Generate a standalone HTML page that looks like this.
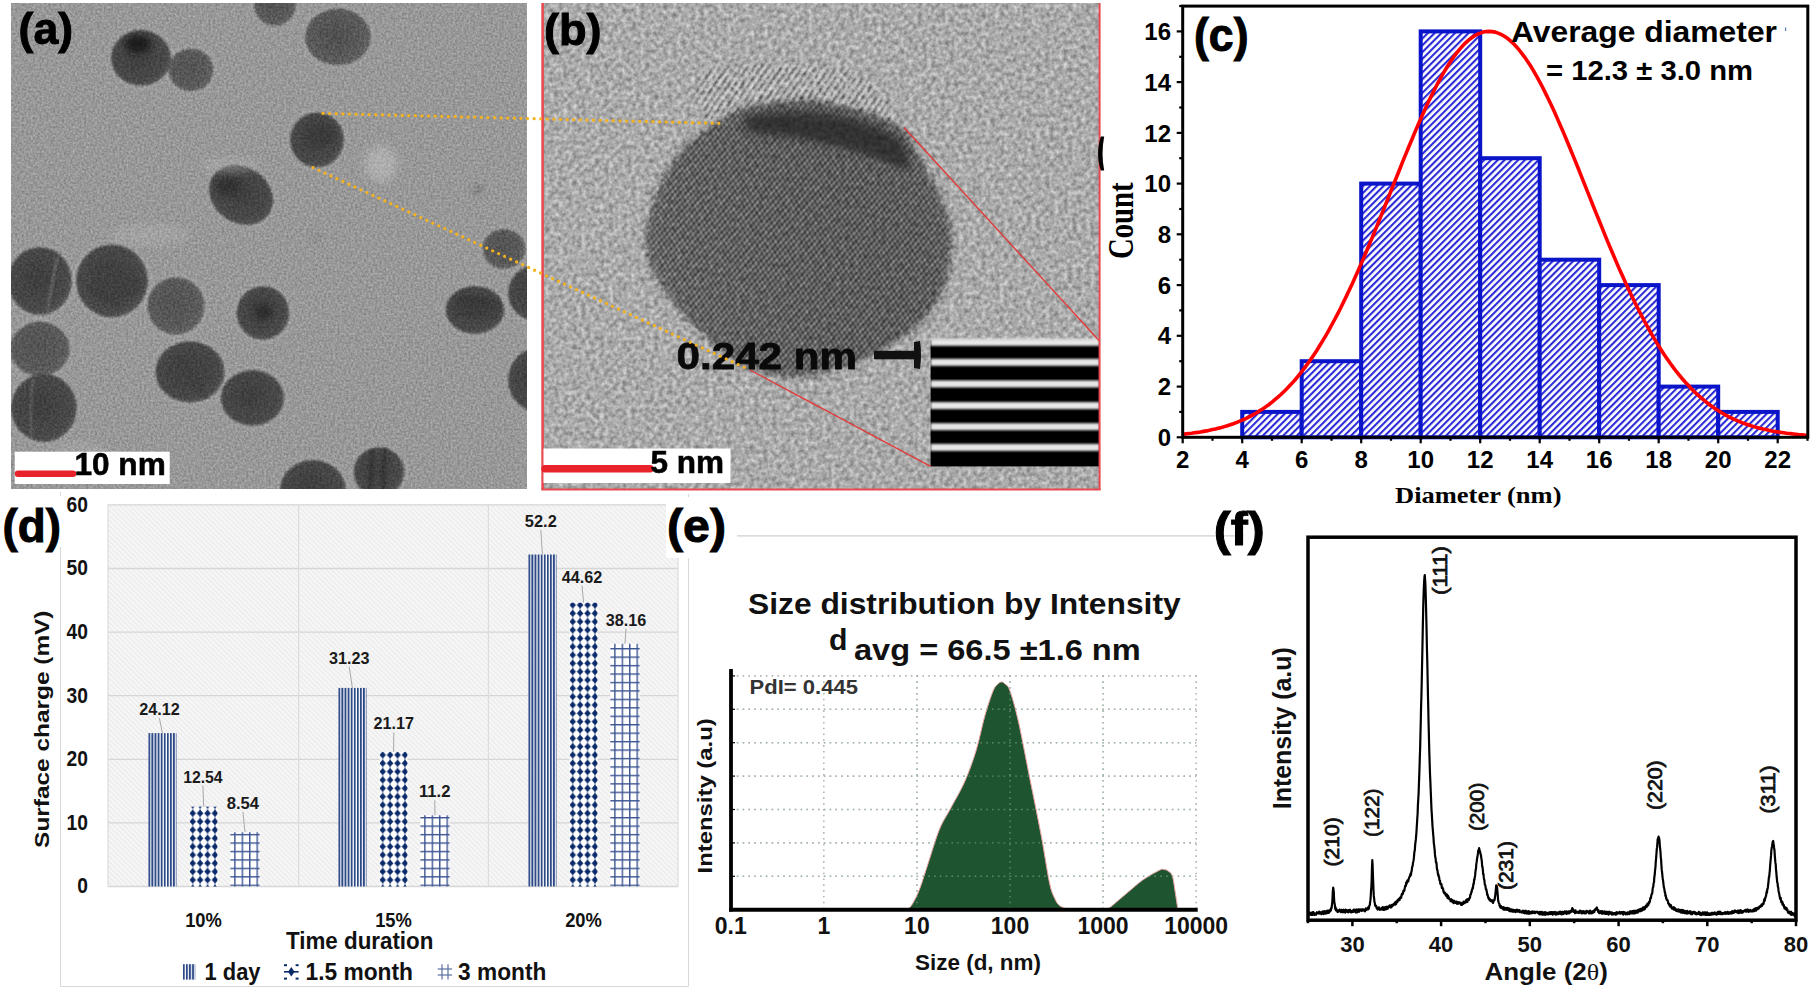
<!DOCTYPE html>
<html><head><meta charset="utf-8"><title>Figure</title>
<style>html,body{margin:0;padding:0;background:#fff;width:1814px;height:992px;overflow:hidden} svg{display:block}</style>
</head><body><svg width="1814" height="992" viewBox="0 0 1814 992"><defs>
<pattern id="hatchC" patternUnits="userSpaceOnUse" width="4.8" height="4.8" patternTransform="rotate(45)">
  <rect width="4.8" height="4.8" fill="#fff"/><rect x="0" y="0" width="2.1" height="4.8" fill="#2a2ad8"/>
</pattern>
<pattern id="hatchD" patternUnits="userSpaceOnUse" width="3.6" height="3.6" patternTransform="rotate(-45)">
  <rect width="3.6" height="3.6" fill="#f7f7f7"/><rect x="0" y="0" width="1.4" height="3.6" fill="#ebebeb"/>
</pattern>
<pattern id="vstripe" patternUnits="userSpaceOnUse" width="3.1" height="10">
  <rect width="3.1" height="10" fill="#fff"/><rect x="0" y="0" width="1.9" height="10" fill="#2e4a86"/>
</pattern>
<pattern id="dots" patternUnits="userSpaceOnUse" width="8" height="8" x="0" y="0">
  <rect width="8" height="8" fill="#fff"/>
  <path d="M4 0.6 L7.4 4 L4 7.4 L0.6 4 Z" fill="#0b2a6a"/>
  <rect x="0" y="3.4" width="8" height="1.2" fill="#0b2a6a"/>
  <rect x="3.4" y="0" width="1.2" height="8" fill="#0b2a6a" opacity="0.5"/>
</pattern>
<pattern id="grid" patternUnits="userSpaceOnUse" width="9" height="9">
  <rect width="9" height="9" fill="#fff"/>
  <rect x="0" y="0" width="9" height="1.6" fill="#2e4a86"/>
  <rect x="0" y="0" width="1.6" height="9" fill="#2e4a86"/>
</pattern>

<filter id="blur2" x="-50%" y="-50%" width="200%" height="200%"><feGaussianBlur stdDeviation="2"/></filter>
<filter id="blur4" x="-50%" y="-50%" width="200%" height="200%"><feGaussianBlur stdDeviation="4"/></filter>
<filter id="blur8"><feGaussianBlur stdDeviation="8"/></filter>
<clipPath id="clipA"><rect x="11" y="3" width="516" height="486"/></clipPath>
<clipPath id="clipB"><rect x="543" y="3" width="557" height="486"/></clipPath>
</defs><g id="panelC"><rect x="1242.2" y="411.9" width="59.5" height="25.4" fill="url(#hatchC)" stroke="#0a14c8" stroke-width="4"/><rect x="1301.7" y="361.2" width="59.5" height="76.1" fill="url(#hatchC)" stroke="#0a14c8" stroke-width="4"/><rect x="1361.2" y="183.6" width="59.5" height="253.7" fill="url(#hatchC)" stroke="#0a14c8" stroke-width="4"/><rect x="1420.7" y="31.4" width="59.5" height="405.9" fill="url(#hatchC)" stroke="#0a14c8" stroke-width="4"/><rect x="1480.2" y="158.2" width="59.5" height="279.1" fill="url(#hatchC)" stroke="#0a14c8" stroke-width="4"/><rect x="1539.7" y="259.7" width="59.5" height="177.6" fill="url(#hatchC)" stroke="#0a14c8" stroke-width="4"/><rect x="1599.2" y="285.1" width="59.5" height="152.2" fill="url(#hatchC)" stroke="#0a14c8" stroke-width="4"/><rect x="1658.7" y="386.6" width="59.5" height="50.7" fill="url(#hatchC)" stroke="#0a14c8" stroke-width="4"/><rect x="1718.2" y="411.9" width="59.5" height="25.4" fill="url(#hatchC)" stroke="#0a14c8" stroke-width="4"/><polyline points="1182.7,434.2 1185.7,433.9 1188.7,433.5 1191.6,433.2 1194.6,432.8 1197.6,432.4 1200.5,431.9 1203.5,431.4 1206.5,430.9 1209.5,430.3 1212.5,429.6 1215.4,429.0 1218.4,428.2 1221.4,427.5 1224.4,426.6 1227.3,425.7 1230.3,424.7 1233.3,423.7 1236.2,422.6 1239.2,421.4 1242.2,420.1 1245.2,418.8 1248.2,417.3 1251.1,415.8 1254.1,414.2 1257.1,412.5 1260.0,410.6 1263.0,408.7 1266.0,406.6 1269.0,404.5 1272.0,402.2 1274.9,399.7 1277.9,397.2 1280.9,394.5 1283.8,391.7 1286.8,388.7 1289.8,385.6 1292.8,382.4 1295.8,379.0 1298.7,375.4 1301.7,371.7 1304.7,367.8 1307.6,363.8 1310.6,359.6 1313.6,355.2 1316.6,350.7 1319.5,346.0 1322.5,341.1 1325.5,336.1 1328.5,330.9 1331.4,325.5 1334.4,320.0 1337.4,314.3 1340.4,308.5 1343.3,302.5 1346.3,296.4 1349.3,290.1 1352.3,283.7 1355.2,277.1 1358.2,270.4 1361.2,263.6 1364.2,256.7 1367.1,249.7 1370.1,242.6 1373.1,235.4 1376.1,228.1 1379.0,220.8 1382.0,213.4 1385.0,206.0 1388.0,198.6 1390.9,191.1 1393.9,183.6 1396.9,176.2 1399.9,168.8 1402.8,161.4 1405.8,154.1 1408.8,146.8 1411.8,139.7 1414.7,132.6 1417.7,125.7 1420.7,118.9 1423.7,112.3 1426.6,105.8 1429.6,99.5 1432.6,93.4 1435.6,87.5 1438.5,81.8 1441.5,76.4 1444.5,71.2 1447.5,66.3 1450.4,61.7 1453.4,57.3 1456.4,53.3 1459.4,49.6 1462.3,46.2 1465.3,43.1 1468.3,40.4 1471.3,38.0 1474.2,36.0 1477.2,34.4 1480.2,33.1 1483.2,32.1 1486.1,31.6 1489.1,31.4 1492.1,31.6 1495.1,32.1 1498.0,33.1 1501.0,34.4 1504.0,36.0 1507.0,38.0 1509.9,40.4 1512.9,43.1 1515.9,46.2 1518.9,49.6 1521.8,53.3 1524.8,57.3 1527.8,61.7 1530.8,66.3 1533.7,71.2 1536.7,76.4 1539.7,81.8 1542.7,87.5 1545.6,93.4 1548.6,99.5 1551.6,105.8 1554.6,112.3 1557.5,118.9 1560.5,125.7 1563.5,132.6 1566.5,139.7 1569.4,146.8 1572.4,154.1 1575.4,161.4 1578.4,168.8 1581.3,176.2 1584.3,183.6 1587.3,191.1 1590.3,198.6 1593.2,206.0 1596.2,213.4 1599.2,220.8 1602.2,228.1 1605.1,235.4 1608.1,242.6 1611.1,249.7 1614.1,256.7 1617.0,263.6 1620.0,270.4 1623.0,277.1 1626.0,283.7 1628.9,290.1 1631.9,296.4 1634.9,302.5 1637.9,308.5 1640.8,314.3 1643.8,320.0 1646.8,325.5 1649.8,330.9 1652.7,336.1 1655.7,341.1 1658.7,346.0 1661.7,350.7 1664.6,355.2 1667.6,359.6 1670.6,363.8 1673.6,367.8 1676.5,371.7 1679.5,375.4 1682.5,379.0 1685.5,382.4 1688.5,385.6 1691.4,388.7 1694.4,391.7 1697.4,394.5 1700.4,397.2 1703.3,399.7 1706.3,402.2 1709.3,404.5 1712.3,406.6 1715.2,408.7 1718.2,410.6 1721.2,412.5 1724.2,414.2 1727.1,415.8 1730.1,417.3 1733.1,418.8 1736.1,420.1 1739.0,421.4 1742.0,422.6 1745.0,423.7 1748.0,424.7 1750.9,425.7 1753.9,426.6 1756.9,427.5 1759.9,428.2 1762.8,429.0 1765.8,429.6 1768.8,430.3 1771.8,430.9 1774.7,431.4 1777.7,431.9 1780.7,432.4 1783.7,432.8 1786.6,433.2 1789.6,433.5 1792.6,433.9 1795.6,434.2 1798.5,434.5 1801.5,434.7 1804.5,435.0 1807.5,435.2" fill="none" stroke="#ff0000" stroke-width="3.6"/><rect x="1182.7" y="6.1" width="625.1" height="431.2" fill="none" stroke="#000" stroke-width="3"/><line x1="1182.7" y1="437.3" x2="1182.7" y2="443.3" stroke="#000" stroke-width="2.2"/><text x="1182.7" y="467.6" font-family="'Liberation Sans', Arial, sans-serif" font-size="24" font-weight="bold" text-anchor="middle" fill="#000" >2</text><line x1="1212.5" y1="437.3" x2="1212.5" y2="440.8" stroke="#000" stroke-width="2.2"/><line x1="1242.2" y1="437.3" x2="1242.2" y2="443.3" stroke="#000" stroke-width="2.2"/><text x="1242.2" y="467.6" font-family="'Liberation Sans', Arial, sans-serif" font-size="24" font-weight="bold" text-anchor="middle" fill="#000" >4</text><line x1="1272.0" y1="437.3" x2="1272.0" y2="440.8" stroke="#000" stroke-width="2.2"/><line x1="1301.7" y1="437.3" x2="1301.7" y2="443.3" stroke="#000" stroke-width="2.2"/><text x="1301.7" y="467.6" font-family="'Liberation Sans', Arial, sans-serif" font-size="24" font-weight="bold" text-anchor="middle" fill="#000" >6</text><line x1="1331.5" y1="437.3" x2="1331.5" y2="440.8" stroke="#000" stroke-width="2.2"/><line x1="1361.2" y1="437.3" x2="1361.2" y2="443.3" stroke="#000" stroke-width="2.2"/><text x="1361.2" y="467.6" font-family="'Liberation Sans', Arial, sans-serif" font-size="24" font-weight="bold" text-anchor="middle" fill="#000" >8</text><line x1="1391.0" y1="437.3" x2="1391.0" y2="440.8" stroke="#000" stroke-width="2.2"/><line x1="1420.7" y1="437.3" x2="1420.7" y2="443.3" stroke="#000" stroke-width="2.2"/><text x="1420.7" y="467.6" font-family="'Liberation Sans', Arial, sans-serif" font-size="24" font-weight="bold" text-anchor="middle" fill="#000" >10</text><line x1="1450.5" y1="437.3" x2="1450.5" y2="440.8" stroke="#000" stroke-width="2.2"/><line x1="1480.2" y1="437.3" x2="1480.2" y2="443.3" stroke="#000" stroke-width="2.2"/><text x="1480.2" y="467.6" font-family="'Liberation Sans', Arial, sans-serif" font-size="24" font-weight="bold" text-anchor="middle" fill="#000" >12</text><line x1="1510.0" y1="437.3" x2="1510.0" y2="440.8" stroke="#000" stroke-width="2.2"/><line x1="1539.7" y1="437.3" x2="1539.7" y2="443.3" stroke="#000" stroke-width="2.2"/><text x="1539.7" y="467.6" font-family="'Liberation Sans', Arial, sans-serif" font-size="24" font-weight="bold" text-anchor="middle" fill="#000" >14</text><line x1="1569.5" y1="437.3" x2="1569.5" y2="440.8" stroke="#000" stroke-width="2.2"/><line x1="1599.2" y1="437.3" x2="1599.2" y2="443.3" stroke="#000" stroke-width="2.2"/><text x="1599.2" y="467.6" font-family="'Liberation Sans', Arial, sans-serif" font-size="24" font-weight="bold" text-anchor="middle" fill="#000" >16</text><line x1="1629.0" y1="437.3" x2="1629.0" y2="440.8" stroke="#000" stroke-width="2.2"/><line x1="1658.7" y1="437.3" x2="1658.7" y2="443.3" stroke="#000" stroke-width="2.2"/><text x="1658.7" y="467.6" font-family="'Liberation Sans', Arial, sans-serif" font-size="24" font-weight="bold" text-anchor="middle" fill="#000" >18</text><line x1="1688.5" y1="437.3" x2="1688.5" y2="440.8" stroke="#000" stroke-width="2.2"/><line x1="1718.2" y1="437.3" x2="1718.2" y2="443.3" stroke="#000" stroke-width="2.2"/><text x="1718.2" y="467.6" font-family="'Liberation Sans', Arial, sans-serif" font-size="24" font-weight="bold" text-anchor="middle" fill="#000" >20</text><line x1="1748.0" y1="437.3" x2="1748.0" y2="440.8" stroke="#000" stroke-width="2.2"/><line x1="1777.7" y1="437.3" x2="1777.7" y2="443.3" stroke="#000" stroke-width="2.2"/><text x="1777.7" y="467.6" font-family="'Liberation Sans', Arial, sans-serif" font-size="24" font-weight="bold" text-anchor="middle" fill="#000" >22</text><line x1="1807.5" y1="437.3" x2="1807.5" y2="440.8" stroke="#000" stroke-width="2.2"/><line x1="1176.7" y1="437.3" x2="1182.7" y2="437.3" stroke="#000" stroke-width="2.2"/><text x="1171" y="445.9" font-family="'Liberation Sans', Arial, sans-serif" font-size="24" font-weight="bold" text-anchor="end" fill="#000" >0</text><line x1="1179.2" y1="411.9" x2="1182.7" y2="411.9" stroke="#000" stroke-width="2.2"/><line x1="1176.7" y1="386.6" x2="1182.7" y2="386.6" stroke="#000" stroke-width="2.2"/><text x="1171" y="395.2" font-family="'Liberation Sans', Arial, sans-serif" font-size="24" font-weight="bold" text-anchor="end" fill="#000" >2</text><line x1="1179.2" y1="361.2" x2="1182.7" y2="361.2" stroke="#000" stroke-width="2.2"/><line x1="1176.7" y1="335.8" x2="1182.7" y2="335.8" stroke="#000" stroke-width="2.2"/><text x="1171" y="344.4" font-family="'Liberation Sans', Arial, sans-serif" font-size="24" font-weight="bold" text-anchor="end" fill="#000" >4</text><line x1="1179.2" y1="310.4" x2="1182.7" y2="310.4" stroke="#000" stroke-width="2.2"/><line x1="1176.7" y1="285.1" x2="1182.7" y2="285.1" stroke="#000" stroke-width="2.2"/><text x="1171" y="293.7" font-family="'Liberation Sans', Arial, sans-serif" font-size="24" font-weight="bold" text-anchor="end" fill="#000" >6</text><line x1="1179.2" y1="259.7" x2="1182.7" y2="259.7" stroke="#000" stroke-width="2.2"/><line x1="1176.7" y1="234.3" x2="1182.7" y2="234.3" stroke="#000" stroke-width="2.2"/><text x="1171" y="242.9" font-family="'Liberation Sans', Arial, sans-serif" font-size="24" font-weight="bold" text-anchor="end" fill="#000" >8</text><line x1="1179.2" y1="209.0" x2="1182.7" y2="209.0" stroke="#000" stroke-width="2.2"/><line x1="1176.7" y1="183.6" x2="1182.7" y2="183.6" stroke="#000" stroke-width="2.2"/><text x="1171" y="192.2" font-family="'Liberation Sans', Arial, sans-serif" font-size="24" font-weight="bold" text-anchor="end" fill="#000" >10</text><line x1="1179.2" y1="158.2" x2="1182.7" y2="158.2" stroke="#000" stroke-width="2.2"/><line x1="1176.7" y1="132.9" x2="1182.7" y2="132.9" stroke="#000" stroke-width="2.2"/><text x="1171" y="141.5" font-family="'Liberation Sans', Arial, sans-serif" font-size="24" font-weight="bold" text-anchor="end" fill="#000" >12</text><line x1="1179.2" y1="107.5" x2="1182.7" y2="107.5" stroke="#000" stroke-width="2.2"/><line x1="1176.7" y1="82.1" x2="1182.7" y2="82.1" stroke="#000" stroke-width="2.2"/><text x="1171" y="90.7" font-family="'Liberation Sans', Arial, sans-serif" font-size="24" font-weight="bold" text-anchor="end" fill="#000" >14</text><line x1="1179.2" y1="56.8" x2="1182.7" y2="56.8" stroke="#000" stroke-width="2.2"/><line x1="1176.7" y1="31.4" x2="1182.7" y2="31.4" stroke="#000" stroke-width="2.2"/><text x="1171" y="40.0" font-family="'Liberation Sans', Arial, sans-serif" font-size="24" font-weight="bold" text-anchor="end" fill="#000" >16</text><line x1="1179.2" y1="6.0" x2="1182.7" y2="6.0" stroke="#000" stroke-width="2.2"/><text x="1194" y="51" font-family="'Liberation Sans', Arial, sans-serif" font-size="46" font-weight="bold" text-anchor="start" fill="#000" textLength="54.5" lengthAdjust="spacingAndGlyphs" stroke="#000" stroke-width="1">(c)</text><text x="1511" y="41.5" font-family="'Liberation Sans', Arial, sans-serif" font-size="30" font-weight="bold" text-anchor="start" fill="#000" textLength="266" lengthAdjust="spacingAndGlyphs" >Average diameter</text><text x="1546" y="79.6" font-family="'Liberation Sans', Arial, sans-serif" font-size="28" font-weight="bold" text-anchor="start" fill="#000" textLength="207" lengthAdjust="spacingAndGlyphs" >= 12.3 ± 3.0 nm</text><rect x="1785" y="27.5" width="1.2" height="3.5" fill="#5a7fc0"/><text x="1395" y="502.8" font-family="'Liberation Serif', 'Times New Roman', serif" font-size="24" font-weight="bold" text-anchor="start" fill="#000" textLength="166.5" lengthAdjust="spacingAndGlyphs" >Diameter (nm)</text><text transform="translate(1132.5,259) rotate(-90)" font-family="'Liberation Serif', 'Times New Roman', serif" font-size="36.5" font-weight="bold" textLength="76.5" lengthAdjust="spacingAndGlyphs">Count</text></g><g id="panelD"><path d="M60.5,492 V986.5 H688.5 V494" fill="none" stroke="#d9d9d9" stroke-width="1"/><rect x="108" y="504.4" width="570" height="382.1" fill="url(#hatchD)"/><line x1="108" y1="886.5" x2="678" y2="886.5" stroke="#d6d6d6" stroke-width="1.3"/><text x="88" y="893.3" font-family="'Liberation Sans', Arial, sans-serif" font-size="21.5" font-weight="bold" text-anchor="end" fill="#111" textLength="10.7" lengthAdjust="spacingAndGlyphs" >0</text><line x1="108" y1="822.9" x2="678" y2="822.9" stroke="#d6d6d6" stroke-width="1.3"/><text x="88" y="829.7" font-family="'Liberation Sans', Arial, sans-serif" font-size="21.5" font-weight="bold" text-anchor="end" fill="#111" textLength="21.4" lengthAdjust="spacingAndGlyphs" >10</text><line x1="108" y1="759.3" x2="678" y2="759.3" stroke="#d6d6d6" stroke-width="1.3"/><text x="88" y="766.1" font-family="'Liberation Sans', Arial, sans-serif" font-size="21.5" font-weight="bold" text-anchor="end" fill="#111" textLength="21.4" lengthAdjust="spacingAndGlyphs" >20</text><line x1="108" y1="695.7" x2="678" y2="695.7" stroke="#d6d6d6" stroke-width="1.3"/><text x="88" y="702.5" font-family="'Liberation Sans', Arial, sans-serif" font-size="21.5" font-weight="bold" text-anchor="end" fill="#111" textLength="21.4" lengthAdjust="spacingAndGlyphs" >30</text><line x1="108" y1="632.1" x2="678" y2="632.1" stroke="#d6d6d6" stroke-width="1.3"/><text x="88" y="638.9" font-family="'Liberation Sans', Arial, sans-serif" font-size="21.5" font-weight="bold" text-anchor="end" fill="#111" textLength="21.4" lengthAdjust="spacingAndGlyphs" >40</text><line x1="108" y1="568.5" x2="678" y2="568.5" stroke="#d6d6d6" stroke-width="1.3"/><text x="88" y="575.3" font-family="'Liberation Sans', Arial, sans-serif" font-size="21.5" font-weight="bold" text-anchor="end" fill="#111" textLength="21.4" lengthAdjust="spacingAndGlyphs" >50</text><line x1="108" y1="504.9" x2="678" y2="504.9" stroke="#d6d6d6" stroke-width="1.3"/><text x="88" y="511.7" font-family="'Liberation Sans', Arial, sans-serif" font-size="21.5" font-weight="bold" text-anchor="end" fill="#111" textLength="21.4" lengthAdjust="spacingAndGlyphs" >60</text><line x1="108" y1="504.4" x2="108" y2="886.5" stroke="#dcdcdc" stroke-width="1.2"/><line x1="298.6" y1="504.4" x2="298.6" y2="886.5" stroke="#dcdcdc" stroke-width="1.2"/><line x1="488.4" y1="504.4" x2="488.4" y2="886.5" stroke="#dcdcdc" stroke-width="1.2"/><line x1="678" y1="504.4" x2="678" y2="886.5" stroke="#dcdcdc" stroke-width="1.2"/><defs><pattern id="pb00" patternUnits="userSpaceOnUse" x="148.30" y="0" width="3.1" height="10"><rect width="3.1" height="10" fill="#fff"/><rect x="0" y="0" width="1.9" height="10" fill="#2e4a86"/></pattern></defs><rect x="148.3" y="733.1" width="28.2" height="153.4" fill="url(#pb00)"/><text x="159.4" y="715.2" font-family="'Liberation Sans', Arial, sans-serif" font-size="16" font-weight="bold" text-anchor="middle" fill="#1a1a1a" textLength="40.5" lengthAdjust="spacingAndGlyphs" >24.12</text><line x1="159.4" y1="718.2" x2="162.4" y2="733.1" stroke="#a8a8a8" stroke-width="1"/><defs><pattern id="pb01" patternUnits="userSpaceOnUse" x="189.00" y="875.8" width="7.43" height="8.33"><rect width="7.43" height="8.33" fill="#fff"/><rect x="3.2" y="0" width="1" height="8.33" fill="#0b2a6a" opacity="0.6"/><path d="M3.7 0.5 L7.0 4.1 L3.7 7.7 L0.4 4.1 Z" fill="#0b2a6a"/></pattern></defs><rect x="189.8" y="806.7" width="27.7" height="79.8" fill="url(#pb01)"/><text x="202.9" y="782.5" font-family="'Liberation Sans', Arial, sans-serif" font-size="16" font-weight="bold" text-anchor="middle" fill="#1a1a1a" textLength="39.5" lengthAdjust="spacingAndGlyphs" >12.54</text><line x1="202.9" y1="785.5" x2="203.7" y2="806.7" stroke="#a8a8a8" stroke-width="1"/><defs><pattern id="pb02" patternUnits="userSpaceOnUse" x="234.20" y="884.6" width="7.43" height="8.45"><rect width="7.43" height="8.45" fill="#fff"/><rect x="0" y="0" width="7.43" height="1.4" fill="#3d5592"/><rect x="0" y="0" width="1.4" height="8.45" fill="#3d5592"/></pattern></defs><rect x="230.4" y="832.2" width="29.2" height="54.3" fill="url(#pb02)"/><text x="242.9" y="808.8" font-family="'Liberation Sans', Arial, sans-serif" font-size="16" font-weight="bold" text-anchor="middle" fill="#1a1a1a" textLength="32.4" lengthAdjust="spacingAndGlyphs" >8.54</text><line x1="242.9" y1="811.8" x2="245.0" y2="832.2" stroke="#a8a8a8" stroke-width="1"/><defs><pattern id="pb10" patternUnits="userSpaceOnUse" x="338.30" y="0" width="3.1" height="10"><rect width="3.1" height="10" fill="#fff"/><rect x="0" y="0" width="1.9" height="10" fill="#2e4a86"/></pattern></defs><rect x="338.3" y="687.9" width="28.2" height="198.6" fill="url(#pb10)"/><text x="349.2" y="663.6" font-family="'Liberation Sans', Arial, sans-serif" font-size="16" font-weight="bold" text-anchor="middle" fill="#1a1a1a" textLength="40.4" lengthAdjust="spacingAndGlyphs" >31.23</text><line x1="349.2" y1="666.6" x2="352.4" y2="687.9" stroke="#a8a8a8" stroke-width="1"/><defs><pattern id="pb11" patternUnits="userSpaceOnUse" x="379.00" y="875.8" width="7.43" height="8.33"><rect width="7.43" height="8.33" fill="#fff"/><rect x="3.2" y="0" width="1" height="8.33" fill="#0b2a6a" opacity="0.6"/><path d="M3.7 0.5 L7.0 4.1 L3.7 7.7 L0.4 4.1 Z" fill="#0b2a6a"/></pattern></defs><rect x="379.8" y="751.9" width="27.7" height="134.6" fill="url(#pb11)"/><text x="393.8" y="729.4" font-family="'Liberation Sans', Arial, sans-serif" font-size="16" font-weight="bold" text-anchor="middle" fill="#1a1a1a" textLength="40.5" lengthAdjust="spacingAndGlyphs" >21.17</text><line x1="393.8" y1="732.4" x2="393.6" y2="751.9" stroke="#a8a8a8" stroke-width="1"/><defs><pattern id="pb12" patternUnits="userSpaceOnUse" x="424.20" y="884.6" width="7.43" height="8.45"><rect width="7.43" height="8.45" fill="#fff"/><rect x="0" y="0" width="7.43" height="1.4" fill="#3d5592"/><rect x="0" y="0" width="1.4" height="8.45" fill="#3d5592"/></pattern></defs><rect x="420.4" y="815.3" width="29.2" height="71.2" fill="url(#pb12)"/><text x="434.7" y="797.2" font-family="'Liberation Sans', Arial, sans-serif" font-size="16" font-weight="bold" text-anchor="middle" fill="#1a1a1a" textLength="31.4" lengthAdjust="spacingAndGlyphs" >11.2</text><line x1="434.7" y1="800.2" x2="435.0" y2="815.3" stroke="#a8a8a8" stroke-width="1"/><defs><pattern id="pb20" patternUnits="userSpaceOnUse" x="528.30" y="0" width="3.1" height="10"><rect width="3.1" height="10" fill="#fff"/><rect x="0" y="0" width="1.9" height="10" fill="#2e4a86"/></pattern></defs><rect x="528.3" y="554.5" width="28.2" height="332.0" fill="url(#pb20)"/><text x="540.8" y="527" font-family="'Liberation Sans', Arial, sans-serif" font-size="16" font-weight="bold" text-anchor="middle" fill="#1a1a1a" textLength="31.9" lengthAdjust="spacingAndGlyphs" >52.2</text><line x1="540.8" y1="530.0" x2="542.4" y2="554.5" stroke="#a8a8a8" stroke-width="1"/><defs><pattern id="pb21" patternUnits="userSpaceOnUse" x="569.00" y="875.8" width="7.43" height="8.33"><rect width="7.43" height="8.33" fill="#fff"/><rect x="3.2" y="0" width="1" height="8.33" fill="#0b2a6a" opacity="0.6"/><path d="M3.7 0.5 L7.0 4.1 L3.7 7.7 L0.4 4.1 Z" fill="#0b2a6a"/></pattern></defs><rect x="569.8" y="602.7" width="27.7" height="283.8" fill="url(#pb21)"/><text x="582.0" y="582.6" font-family="'Liberation Sans', Arial, sans-serif" font-size="16" font-weight="bold" text-anchor="middle" fill="#1a1a1a" textLength="40.5" lengthAdjust="spacingAndGlyphs" >44.62</text><line x1="582.0" y1="585.6" x2="583.6" y2="602.7" stroke="#a8a8a8" stroke-width="1"/><defs><pattern id="pb22" patternUnits="userSpaceOnUse" x="614.20" y="884.6" width="7.43" height="8.45"><rect width="7.43" height="8.45" fill="#fff"/><rect x="0" y="0" width="7.43" height="1.4" fill="#3d5592"/><rect x="0" y="0" width="1.4" height="8.45" fill="#3d5592"/></pattern></defs><rect x="610.4" y="643.8" width="29.2" height="242.7" fill="url(#pb22)"/><text x="626.0" y="625.6" font-family="'Liberation Sans', Arial, sans-serif" font-size="16" font-weight="bold" text-anchor="middle" fill="#1a1a1a" textLength="40.5" lengthAdjust="spacingAndGlyphs" >38.16</text><line x1="626.0" y1="628.6" x2="625.0" y2="643.8" stroke="#a8a8a8" stroke-width="1"/><text x="203.5" y="926.6" font-family="'Liberation Sans', Arial, sans-serif" font-size="21" font-weight="bold" text-anchor="middle" fill="#111" textLength="36.7" lengthAdjust="spacingAndGlyphs" >10%</text><text x="393.5" y="926.6" font-family="'Liberation Sans', Arial, sans-serif" font-size="21" font-weight="bold" text-anchor="middle" fill="#111" textLength="36.7" lengthAdjust="spacingAndGlyphs" >15%</text><text x="583.5" y="926.6" font-family="'Liberation Sans', Arial, sans-serif" font-size="21" font-weight="bold" text-anchor="middle" fill="#111" textLength="36.7" lengthAdjust="spacingAndGlyphs" >20%</text><text x="286" y="949" font-family="'Liberation Sans', Arial, sans-serif" font-size="23.3" font-weight="bold" text-anchor="start" fill="#111" textLength="147.4" lengthAdjust="spacingAndGlyphs" >Time duration</text><rect x="182.3" y="964.2" width="13" height="15.4" fill="url(#vstripe)"/><text x="204.5" y="980" font-family="'Liberation Sans', Arial, sans-serif" font-size="23.5" font-weight="bold" text-anchor="start" fill="#111" textLength="56" lengthAdjust="spacingAndGlyphs" >1 day</text><g><rect x="284" y="964.2" width="14.6" height="15.4" fill="#fff"/><path d="M291.3 967 L294.5 971.8 L291.3 976.6 L288.1 971.8 Z" fill="#0b2a6a"/><rect x="284" y="971" width="14.6" height="1.6" fill="#0b2a6a"/><rect x="284" y="964.2" width="3" height="2" fill="#0b2a6a"/><rect x="295.6" y="964.2" width="3" height="2" fill="#0b2a6a"/><rect x="284" y="977.6" width="3" height="2" fill="#0b2a6a"/><rect x="295.6" y="977.6" width="3" height="2" fill="#0b2a6a"/></g><text x="305.5" y="980" font-family="'Liberation Sans', Arial, sans-serif" font-size="23.5" font-weight="bold" text-anchor="start" fill="#111" textLength="107.5" lengthAdjust="spacingAndGlyphs" >1.5 month</text><g stroke="#5a6ea0" stroke-width="1.2" fill="none"><line x1="437.7" y1="969" x2="452.1" y2="969"/><line x1="437.7" y1="975" x2="452.1" y2="975"/><line x1="442" y1="964.2" x2="442" y2="979.6"/><line x1="448" y1="964.2" x2="448" y2="979.6"/></g><text x="458.1" y="980" font-family="'Liberation Sans', Arial, sans-serif" font-size="23.5" font-weight="bold" text-anchor="start" fill="#111" textLength="88.2" lengthAdjust="spacingAndGlyphs" >3 month</text><text transform="translate(49,847.9) rotate(-90)" font-family="'Liberation Sans', Arial, sans-serif" font-size="20.3" font-weight="bold" fill="#111" textLength="237.4" lengthAdjust="spacingAndGlyphs">Surface charge (mV)</text><rect x="0" y="496" width="62" height="51" fill="#fff"/><text x="2.5" y="542" font-family="'Liberation Sans', Arial, sans-serif" font-size="47" font-weight="bold" text-anchor="start" fill="#000" textLength="58.5" lengthAdjust="spacingAndGlyphs" stroke="#000" stroke-width="1">(d)</text></g><g id="panelE"><rect x="666" y="497" width="64" height="61" fill="#fff"/><text x="667" y="542.3" font-family="'Liberation Sans', Arial, sans-serif" font-size="46.5" font-weight="bold" text-anchor="start" fill="#000" textLength="59" lengthAdjust="spacingAndGlyphs" stroke="#000" stroke-width="1">(e)</text><line x1="737" y1="535.8" x2="1243.7" y2="535.8" stroke="#cfcfcf" stroke-width="1.3"/><text x="748" y="614.4" font-family="'Liberation Sans', Arial, sans-serif" font-size="29" font-weight="bold" text-anchor="start" fill="#111" textLength="432.7" lengthAdjust="spacingAndGlyphs" >Size distribution by Intensity</text><text x="829" y="649.5" font-family="'Liberation Sans', Arial, sans-serif" font-size="29" font-weight="bold" text-anchor="start" fill="#111" textLength="18.5" lengthAdjust="spacingAndGlyphs" >d</text><text x="854" y="659.9" font-family="'Liberation Sans', Arial, sans-serif" font-size="29" font-weight="bold" text-anchor="start" fill="#111" textLength="286.7" lengthAdjust="spacingAndGlyphs" >avg = 66.5 ±1.6 nm</text><line x1="731" y1="876.3" x2="1196.3" y2="876.3" stroke="#b5b5b5" stroke-width="1.6" stroke-dasharray="1.6 4.2"/><line x1="731" y1="842.9" x2="1196.3" y2="842.9" stroke="#b5b5b5" stroke-width="1.6" stroke-dasharray="1.6 4.2"/><line x1="731" y1="809.5" x2="1196.3" y2="809.5" stroke="#b5b5b5" stroke-width="1.6" stroke-dasharray="1.6 4.2"/><line x1="731" y1="776.1" x2="1196.3" y2="776.1" stroke="#b5b5b5" stroke-width="1.6" stroke-dasharray="1.6 4.2"/><line x1="731" y1="742.7" x2="1196.3" y2="742.7" stroke="#b5b5b5" stroke-width="1.6" stroke-dasharray="1.6 4.2"/><line x1="731" y1="709.3" x2="1196.3" y2="709.3" stroke="#b5b5b5" stroke-width="1.6" stroke-dasharray="1.6 4.2"/><line x1="731" y1="675.9" x2="1196.3" y2="675.9" stroke="#b5b5b5" stroke-width="1.6" stroke-dasharray="1.6 4.2"/><line x1="823.8" y1="675.5" x2="823.8" y2="909.7" stroke="#b5b5b5" stroke-width="1.6" stroke-dasharray="1.6 4.2"/><line x1="916.9" y1="675.5" x2="916.9" y2="909.7" stroke="#b5b5b5" stroke-width="1.6" stroke-dasharray="1.6 4.2"/><line x1="1010.0" y1="675.5" x2="1010.0" y2="909.7" stroke="#b5b5b5" stroke-width="1.6" stroke-dasharray="1.6 4.2"/><line x1="1103.1" y1="675.5" x2="1103.1" y2="909.7" stroke="#b5b5b5" stroke-width="1.6" stroke-dasharray="1.6 4.2"/><line x1="1196.2" y1="675.5" x2="1196.2" y2="909.7" stroke="#b5b5b5" stroke-width="1.6" stroke-dasharray="1.6 4.2"/><path d="M908.5,909 C909.2,908.0 911.1,906.4 913,903 C914.9,899.6 917.3,895.2 919.8,888.6 C922.3,882.0 924.9,873.1 928.2,863.2 C931.5,853.3 935.7,838.5 939.5,829.3 C943.3,820.1 946.6,816.1 950.8,808.1 C955.0,800.1 960.7,790.9 964.9,781.3 C969.1,771.7 972.9,761.1 976.2,750.3 C979.5,739.5 981.9,726.3 984.7,716.4 C987.5,706.5 990.9,696.4 993.1,691 C995.3,685.6 996.6,685.5 998,684 C999.4,682.5 1000.4,682.0 1001.6,682 C1002.8,682.0 1003.6,682.5 1005,684 C1006.4,685.5 1007.8,684.7 1010,691 C1012.2,697.3 1015.2,707.4 1018.5,722 C1021.8,736.6 1026.0,759.7 1029.8,778.5 C1033.6,797.3 1037.8,817.6 1041.1,835 C1044.4,852.4 1047.2,872.2 1049.5,882.9 C1051.8,893.6 1053.3,895.2 1055,899 C1056.7,902.8 1057.5,903.8 1059.4,905.5 C1061.3,907.2 1065.3,908.4 1066.5,909 Z" fill="#1f5430" stroke="#e8a0a0" stroke-width="1"/><path d="M1104,909.5 C1104.8,909.3 1105.2,910.8 1108.8,908.3 C1112.4,905.8 1120.0,898.9 1125.7,894.2 C1131.4,889.5 1137.1,884.1 1142.7,880.1 C1148.3,876.1 1156.0,872.0 1159.6,870.2 C1163.1,868.4 1162.6,869.4 1164,869.5 C1165.4,869.6 1166.6,869.9 1168,871 C1169.4,872.1 1171.1,872.5 1172.3,875.9 C1173.5,879.3 1174.2,885.8 1175.1,891.4 C1176.0,897.0 1177.4,906.5 1177.9,909.5 Z" fill="#1f5430" stroke="#e8a0a0" stroke-width="1"/><line x1="731" y1="876.3" x2="1196.3" y2="876.3" stroke="#8fb89a" stroke-width="1.4" stroke-dasharray="1.6 4.2" opacity="0.55"/><line x1="731" y1="842.9" x2="1196.3" y2="842.9" stroke="#8fb89a" stroke-width="1.4" stroke-dasharray="1.6 4.2" opacity="0.55"/><line x1="731" y1="809.5" x2="1196.3" y2="809.5" stroke="#8fb89a" stroke-width="1.4" stroke-dasharray="1.6 4.2" opacity="0.55"/><line x1="731" y1="776.1" x2="1196.3" y2="776.1" stroke="#8fb89a" stroke-width="1.4" stroke-dasharray="1.6 4.2" opacity="0.55"/><line x1="731" y1="742.7" x2="1196.3" y2="742.7" stroke="#8fb89a" stroke-width="1.4" stroke-dasharray="1.6 4.2" opacity="0.55"/><line x1="731" y1="709.3" x2="1196.3" y2="709.3" stroke="#8fb89a" stroke-width="1.4" stroke-dasharray="1.6 4.2" opacity="0.55"/><line x1="916.9" y1="675.5" x2="916.9" y2="909.7" stroke="#8fb89a" stroke-width="1.4" stroke-dasharray="1.6 4.2" opacity="0.55"/><line x1="1010.0" y1="675.5" x2="1010.0" y2="909.7" stroke="#8fb89a" stroke-width="1.4" stroke-dasharray="1.6 4.2" opacity="0.55"/><line x1="1103.1" y1="675.5" x2="1103.1" y2="909.7" stroke="#8fb89a" stroke-width="1.4" stroke-dasharray="1.6 4.2" opacity="0.55"/><line x1="731" y1="669" x2="731" y2="911.5" stroke="#000" stroke-width="3.8"/><line x1="729" y1="909.7" x2="1197.7" y2="909.7" stroke="#000" stroke-width="4"/><line x1="731" y1="876.3" x2="735" y2="876.3" stroke="#000" stroke-width="1.2"/><line x1="731" y1="842.9" x2="735" y2="842.9" stroke="#000" stroke-width="1.2"/><line x1="731" y1="809.5" x2="735" y2="809.5" stroke="#000" stroke-width="1.2"/><line x1="731" y1="776.1" x2="735" y2="776.1" stroke="#000" stroke-width="1.2"/><line x1="731" y1="742.7" x2="735" y2="742.7" stroke="#000" stroke-width="1.2"/><line x1="731" y1="709.3" x2="735" y2="709.3" stroke="#000" stroke-width="1.2"/><line x1="731" y1="675.9" x2="735" y2="675.9" stroke="#000" stroke-width="1.2"/><text x="730.7" y="934.4" font-family="'Liberation Sans', Arial, sans-serif" font-size="23" font-weight="bold" text-anchor="middle" fill="#111" >0.1</text><text x="823.8" y="934.4" font-family="'Liberation Sans', Arial, sans-serif" font-size="23" font-weight="bold" text-anchor="middle" fill="#111" >1</text><text x="916.9" y="934.4" font-family="'Liberation Sans', Arial, sans-serif" font-size="23" font-weight="bold" text-anchor="middle" fill="#111" >10</text><text x="1010.0" y="934.4" font-family="'Liberation Sans', Arial, sans-serif" font-size="23" font-weight="bold" text-anchor="middle" fill="#111" >100</text><text x="1103.1" y="934.4" font-family="'Liberation Sans', Arial, sans-serif" font-size="23" font-weight="bold" text-anchor="middle" fill="#111" >1000</text><text x="1196.2" y="934.4" font-family="'Liberation Sans', Arial, sans-serif" font-size="23" font-weight="bold" text-anchor="middle" fill="#111" >10000</text><text x="915" y="969.5" font-family="'Liberation Sans', Arial, sans-serif" font-size="22.5" font-weight="bold" text-anchor="start" fill="#111" textLength="126" lengthAdjust="spacingAndGlyphs" >Size (d, nm)</text><text x="749.6" y="693.8" font-family="'Liberation Sans', Arial, sans-serif" font-size="21" font-weight="bold" text-anchor="start" fill="#333" textLength="108.3" lengthAdjust="spacingAndGlyphs" >PdI= 0.445</text><text transform="translate(711.5,873.5) rotate(-90)" font-family="'Liberation Sans', Arial, sans-serif" font-size="20" font-weight="bold" fill="#111" textLength="155.3" lengthAdjust="spacingAndGlyphs">Intensity (a.u)</text></g><g id="panelF"><polyline points="1308.0,913.8 1308.3,913.5 1308.6,912.4 1308.9,913.8 1309.2,913.6 1309.6,913.4 1309.9,914.6 1310.2,913.6 1310.5,913.2 1310.8,912.7 1311.1,914.8 1311.4,914.1 1311.7,914.8 1312.0,912.6 1312.3,912.9 1312.7,914.9 1313.0,912.0 1313.3,912.1 1313.6,913.0 1313.9,913.1 1314.2,914.4 1314.5,914.8 1314.8,913.3 1315.1,914.7 1315.5,914.2 1315.8,914.1 1316.1,914.7 1316.4,913.4 1316.7,913.4 1317.0,912.2 1317.3,913.1 1317.6,912.7 1317.9,913.1 1318.2,912.6 1318.6,913.2 1318.9,913.7 1319.2,911.5 1319.5,911.5 1319.8,912.0 1320.1,912.3 1320.4,913.5 1320.7,913.7 1321.0,913.5 1321.4,914.1 1321.7,912.0 1322.0,913.1 1322.3,911.7 1322.6,913.0 1322.9,911.3 1323.2,911.6 1323.5,914.1 1323.8,913.4 1324.1,911.3 1324.5,912.6 1324.8,911.0 1325.1,912.7 1325.4,913.6 1325.7,911.9 1326.0,911.4 1326.3,912.9 1326.6,913.3 1326.9,912.5 1327.3,910.6 1327.6,911.1 1327.9,912.9 1328.2,912.4 1328.5,912.8 1328.8,912.8 1329.1,910.4 1329.4,912.0 1329.7,910.7 1330.0,910.7 1330.4,911.1 1330.7,909.0 1331.0,910.2 1331.3,907.7 1331.6,908.1 1331.9,905.3 1332.2,903.1 1332.5,898.8 1332.8,891.4 1333.2,887.6 1333.5,889.5 1333.8,892.4 1334.1,899.5 1334.4,902.8 1334.7,904.1 1335.0,906.4 1335.3,909.2 1335.6,907.3 1335.9,910.2 1336.3,910.5 1336.6,909.3 1336.9,910.8 1337.2,911.1 1337.5,911.9 1337.8,912.0 1338.1,910.6 1338.4,911.7 1338.7,910.7 1339.1,911.4 1339.4,911.2 1339.7,909.7 1340.0,911.1 1340.3,910.9 1340.6,910.0 1340.9,912.1 1341.2,912.2 1341.5,909.9 1341.9,910.2 1342.2,911.9 1342.5,912.1 1342.8,910.4 1343.1,909.8 1343.4,912.1 1343.7,909.8 1344.0,910.0 1344.3,910.8 1344.6,911.4 1345.0,912.3 1345.3,912.5 1345.6,909.7 1345.9,911.9 1346.2,910.5 1346.5,911.8 1346.8,910.1 1347.1,910.8 1347.4,911.7 1347.8,912.0 1348.1,910.4 1348.4,912.3 1348.7,911.9 1349.0,910.9 1349.3,910.0 1349.6,910.7 1349.9,911.7 1350.2,909.8 1350.5,911.9 1350.9,912.4 1351.2,911.7 1351.5,911.1 1351.8,912.3 1352.1,911.9 1352.4,911.4 1352.7,910.7 1353.0,912.0 1353.3,911.3 1353.7,909.8 1354.0,909.5 1354.3,910.4 1354.6,910.3 1354.9,910.6 1355.2,912.0 1355.5,912.3 1355.8,912.3 1356.1,909.6 1356.4,910.3 1356.8,909.5 1357.1,912.3 1357.4,910.4 1357.7,910.9 1358.0,910.1 1358.3,911.3 1358.6,909.3 1358.9,912.0 1359.2,910.6 1359.6,910.0 1359.9,909.5 1360.2,910.0 1360.5,910.1 1360.8,909.8 1361.1,909.4 1361.4,911.0 1361.7,910.0 1362.0,909.3 1362.3,909.4 1362.7,910.7 1363.0,909.6 1363.3,909.3 1363.6,910.1 1363.9,909.9 1364.2,910.6 1364.5,909.9 1364.8,909.8 1365.1,911.3 1365.5,909.5 1365.8,908.4 1366.1,908.6 1366.4,908.9 1366.7,909.8 1367.0,908.5 1367.3,908.8 1367.6,909.0 1367.9,907.5 1368.2,909.4 1368.6,906.9 1368.9,908.5 1369.2,906.1 1369.5,905.5 1369.8,905.1 1370.1,902.0 1370.4,900.4 1370.7,896.8 1371.0,891.2 1371.4,886.4 1371.7,878.0 1372.0,867.1 1372.3,860.2 1372.6,864.9 1372.9,874.5 1373.2,881.9 1373.5,890.1 1373.8,895.9 1374.1,898.1 1374.5,902.2 1374.8,903.0 1375.1,905.7 1375.4,905.9 1375.7,905.5 1376.0,905.7 1376.3,906.2 1376.6,908.1 1376.9,907.7 1377.3,908.7 1377.6,909.5 1377.9,908.5 1378.2,907.6 1378.5,907.6 1378.8,908.1 1379.1,907.4 1379.4,909.5 1379.7,909.8 1380.0,909.0 1380.4,909.5 1380.7,909.7 1381.0,909.1 1381.3,908.4 1381.6,908.8 1381.9,909.3 1382.2,907.7 1382.5,907.2 1382.8,908.8 1383.2,909.9 1383.5,909.9 1383.8,907.3 1384.1,909.8 1384.4,907.7 1384.7,908.1 1385.0,908.8 1385.3,907.2 1385.6,909.5 1385.9,909.0 1386.3,908.0 1386.6,909.2 1386.9,906.7 1387.2,908.4 1387.5,908.6 1387.8,908.7 1388.1,906.9 1388.4,907.3 1388.7,906.6 1389.1,906.4 1389.4,905.9 1389.7,905.3 1390.0,906.0 1390.3,907.3 1390.6,906.3 1390.9,907.1 1391.2,907.4 1391.5,905.9 1391.8,905.0 1392.2,906.4 1392.5,906.0 1392.8,905.6 1393.1,904.3 1393.4,904.7 1393.7,904.2 1394.0,903.6 1394.3,904.5 1394.6,903.1 1395.0,902.5 1395.3,904.7 1395.6,901.9 1395.9,902.3 1396.2,903.9 1396.5,902.6 1396.8,901.8 1397.1,900.7 1397.4,902.0 1397.8,901.1 1398.1,899.9 1398.4,899.8 1398.7,899.0 1399.0,900.1 1399.3,899.1 1399.6,900.1 1399.9,898.1 1400.2,897.4 1400.5,897.5 1400.9,896.8 1401.2,897.8 1401.5,895.2 1401.8,894.3 1402.1,893.7 1402.4,894.4 1402.7,893.0 1403.0,893.6 1403.3,891.1 1403.7,890.4 1404.0,891.0 1404.3,890.9 1404.6,888.8 1404.9,887.5 1405.2,885.8 1405.5,885.6 1405.8,886.1 1406.1,882.8 1406.4,884.3 1406.8,881.4 1407.1,882.8 1407.4,881.8 1407.7,880.0 1408.0,881.5 1408.3,881.1 1408.6,879.5 1408.9,878.3 1409.2,877.4 1409.6,877.1 1409.9,875.6 1410.2,876.1 1410.5,873.7 1410.8,875.3 1411.1,873.7 1411.4,871.5 1411.7,870.9 1412.0,868.1 1412.3,866.8 1412.7,865.4 1413.0,862.6 1413.3,861.5 1413.6,860.2 1413.9,857.7 1414.2,853.9 1414.5,851.2 1414.8,850.5 1415.1,845.6 1415.5,842.0 1415.8,839.9 1416.1,836.0 1416.4,833.2 1416.7,827.8 1417.0,823.2 1417.3,817.9 1417.6,814.1 1417.9,805.3 1418.2,800.2 1418.6,793.5 1418.9,784.7 1419.2,777.1 1419.5,768.3 1419.8,758.0 1420.1,749.3 1420.4,736.5 1420.7,724.7 1421.0,710.0 1421.4,696.3 1421.7,683.9 1422.0,668.3 1422.3,654.2 1422.6,638.2 1422.9,622.5 1423.2,608.7 1423.5,598.1 1423.8,588.7 1424.1,582.0 1424.5,576.7 1424.8,575.0 1425.1,580.1 1425.4,584.0 1425.7,594.9 1426.0,605.5 1426.3,618.3 1426.6,631.1 1426.9,647.1 1427.3,662.2 1427.6,676.5 1427.9,692.7 1428.2,704.9 1428.5,720.1 1428.8,731.5 1429.1,744.0 1429.4,755.1 1429.7,764.2 1430.0,773.8 1430.4,782.6 1430.7,790.4 1431.0,797.3 1431.3,805.2 1431.6,811.2 1431.9,815.6 1432.2,820.9 1432.5,826.1 1432.8,829.6 1433.2,834.5 1433.5,837.6 1433.8,843.1 1434.1,844.9 1434.4,847.8 1434.7,850.4 1435.0,854.9 1435.3,857.4 1435.6,858.0 1435.9,862.3 1436.3,862.1 1436.6,864.4 1436.9,868.5 1437.2,869.9 1437.5,870.1 1437.8,873.1 1438.1,875.0 1438.4,874.2 1438.7,876.8 1439.1,876.9 1439.4,880.1 1439.7,880.4 1440.0,880.6 1440.3,883.6 1440.6,884.1 1440.9,883.6 1441.2,883.8 1441.5,884.4 1441.8,887.8 1442.2,887.4 1442.5,887.4 1442.8,888.8 1443.1,889.0 1443.4,891.1 1443.7,892.1 1444.0,892.6 1444.3,893.3 1444.6,892.3 1445.0,893.0 1445.3,893.3 1445.6,895.1 1445.9,895.4 1446.2,895.8 1446.5,894.3 1446.8,894.3 1447.1,894.9 1447.4,897.8 1447.7,898.2 1448.1,895.9 1448.4,897.7 1448.7,897.1 1449.0,898.8 1449.3,898.7 1449.6,898.8 1449.9,899.3 1450.2,899.1 1450.5,901.1 1450.9,899.3 1451.2,899.1 1451.5,901.3 1451.8,900.7 1452.1,900.1 1452.4,901.3 1452.7,902.1 1453.0,902.4 1453.3,901.5 1453.7,903.2 1454.0,900.7 1454.3,901.2 1454.6,901.6 1454.9,901.3 1455.2,902.1 1455.5,902.9 1455.8,902.4 1456.1,902.8 1456.4,901.5 1456.8,902.1 1457.1,903.8 1457.4,901.9 1457.7,902.5 1458.0,902.5 1458.3,902.4 1458.6,903.7 1458.9,902.3 1459.2,902.4 1459.6,902.9 1459.9,902.7 1460.2,902.8 1460.5,903.8 1460.8,902.9 1461.1,904.8 1461.4,904.0 1461.7,903.6 1462.0,904.9 1462.3,903.8 1462.7,902.9 1463.0,902.8 1463.3,903.9 1463.6,901.7 1463.9,902.4 1464.2,903.3 1464.5,902.2 1464.8,902.3 1465.1,902.2 1465.5,902.5 1465.8,900.4 1466.1,901.3 1466.4,900.8 1466.7,900.4 1467.0,899.4 1467.3,902.0 1467.6,899.9 1467.9,899.1 1468.2,900.2 1468.6,899.3 1468.9,899.9 1469.2,898.9 1469.5,897.8 1469.8,898.0 1470.1,896.9 1470.4,894.3 1470.7,894.6 1471.0,893.9 1471.4,891.6 1471.7,891.8 1472.0,889.5 1472.3,889.4 1472.6,887.7 1472.9,888.5 1473.2,885.5 1473.5,883.5 1473.8,884.0 1474.1,879.5 1474.5,879.9 1474.8,876.9 1475.1,875.7 1475.4,872.4 1475.7,869.7 1476.0,868.9 1476.3,863.7 1476.6,862.7 1476.9,859.9 1477.3,857.3 1477.6,855.7 1477.9,853.9 1478.2,851.1 1478.5,850.0 1478.8,849.9 1479.1,848.2 1479.4,849.5 1479.7,850.9 1480.0,851.2 1480.4,853.2 1480.7,854.7 1481.0,855.0 1481.3,858.4 1481.6,859.3 1481.9,862.3 1482.2,867.0 1482.5,866.7 1482.8,869.3 1483.2,874.3 1483.5,874.1 1483.8,877.7 1484.1,879.6 1484.4,880.1 1484.7,884.0 1485.0,884.9 1485.3,885.2 1485.6,887.3 1485.9,889.4 1486.3,889.1 1486.6,890.7 1486.9,892.4 1487.2,894.9 1487.5,894.3 1487.8,895.6 1488.1,897.1 1488.4,898.3 1488.7,897.5 1489.1,899.4 1489.4,899.0 1489.7,898.8 1490.0,899.9 1490.3,900.9 1490.6,900.3 1490.9,901.1 1491.2,900.3 1491.5,901.3 1491.8,900.1 1492.2,900.4 1492.5,901.1 1492.8,902.6 1493.1,902.9 1493.4,900.4 1493.7,900.4 1494.0,900.4 1494.3,900.5 1494.6,899.6 1495.0,896.9 1495.3,895.1 1495.6,892.2 1495.9,888.8 1496.2,885.3 1496.5,885.6 1496.8,886.5 1497.1,887.4 1497.4,891.2 1497.7,894.6 1498.1,899.8 1498.4,901.7 1498.7,902.6 1499.0,903.3 1499.3,903.7 1499.6,905.9 1499.9,905.2 1500.2,907.1 1500.5,907.5 1500.9,906.0 1501.2,906.7 1501.5,906.7 1501.8,907.7 1502.1,907.6 1502.4,908.6 1502.7,908.4 1503.0,907.3 1503.3,907.2 1503.6,909.6 1504.0,909.6 1504.3,907.6 1504.6,908.3 1504.9,907.9 1505.2,909.7 1505.5,909.2 1505.8,909.7 1506.1,908.2 1506.4,909.6 1506.8,908.8 1507.1,907.9 1507.4,909.9 1507.7,909.3 1508.0,908.8 1508.3,908.3 1508.6,909.9 1508.9,910.1 1509.2,911.0 1509.6,908.7 1509.9,911.2 1510.2,911.2 1510.5,909.8 1510.8,910.1 1511.1,909.6 1511.4,910.8 1511.7,909.4 1512.0,911.5 1512.3,911.2 1512.7,909.9 1513.0,911.7 1513.3,911.0 1513.6,909.8 1513.9,910.0 1514.2,911.2 1514.5,911.7 1514.8,911.1 1515.1,910.1 1515.5,911.2 1515.8,912.0 1516.1,910.2 1516.4,910.7 1516.7,909.7 1517.0,909.7 1517.3,909.8 1517.6,911.3 1517.9,910.2 1518.2,911.7 1518.6,911.7 1518.9,911.5 1519.2,910.0 1519.5,910.1 1519.8,912.1 1520.1,911.8 1520.4,911.8 1520.7,911.9 1521.0,911.8 1521.4,911.9 1521.7,912.5 1522.0,911.4 1522.3,910.8 1522.6,911.6 1522.9,910.7 1523.2,911.6 1523.5,912.8 1523.8,911.1 1524.1,910.8 1524.5,912.6 1524.8,913.4 1525.1,912.0 1525.4,911.9 1525.7,911.9 1526.0,910.7 1526.3,911.7 1526.6,911.3 1526.9,913.5 1527.3,912.1 1527.6,911.4 1527.9,913.6 1528.2,913.6 1528.5,911.7 1528.8,911.2 1529.1,913.7 1529.4,912.1 1529.7,913.6 1530.0,911.8 1530.4,912.1 1530.7,913.3 1531.0,913.4 1531.3,911.8 1531.6,912.6 1531.9,911.9 1532.2,913.0 1532.5,913.2 1532.8,911.4 1533.2,912.3 1533.5,912.8 1533.8,912.7 1534.1,912.2 1534.4,912.3 1534.7,911.7 1535.0,913.2 1535.3,912.0 1535.6,912.5 1535.9,911.9 1536.3,912.1 1536.6,912.0 1536.9,911.9 1537.2,911.7 1537.5,912.7 1537.8,913.0 1538.1,912.5 1538.4,912.2 1538.7,913.4 1539.1,913.4 1539.4,914.3 1539.7,912.5 1540.0,911.8 1540.3,913.6 1540.6,914.3 1540.9,914.2 1541.2,913.5 1541.5,913.9 1541.8,911.9 1542.2,914.6 1542.5,913.9 1542.8,914.5 1543.1,912.9 1543.4,912.5 1543.7,914.3 1544.0,914.7 1544.3,913.5 1544.6,913.1 1545.0,912.1 1545.3,914.8 1545.6,914.6 1545.9,914.3 1546.2,914.2 1546.5,914.2 1546.8,912.7 1547.1,913.1 1547.4,914.2 1547.7,914.3 1548.1,914.1 1548.4,914.4 1548.7,912.6 1549.0,914.0 1549.3,913.2 1549.6,912.4 1549.9,913.4 1550.2,914.1 1550.5,912.2 1550.9,912.1 1551.2,913.8 1551.5,913.2 1551.8,912.0 1552.1,913.4 1552.4,914.2 1552.7,914.7 1553.0,912.0 1553.3,912.4 1553.6,913.6 1554.0,913.2 1554.3,913.2 1554.6,913.9 1554.9,911.8 1555.2,912.8 1555.5,914.0 1555.8,914.7 1556.1,913.3 1556.4,913.6 1556.8,912.3 1557.1,912.5 1557.4,912.8 1557.7,914.2 1558.0,914.2 1558.3,913.6 1558.6,913.8 1558.9,912.0 1559.2,913.0 1559.5,912.6 1559.9,911.6 1560.2,913.7 1560.5,912.9 1560.8,914.0 1561.1,912.1 1561.4,914.4 1561.7,912.0 1562.0,911.9 1562.3,911.9 1562.7,914.1 1563.0,913.5 1563.3,912.2 1563.6,914.0 1563.9,912.8 1564.2,912.9 1564.5,911.4 1564.8,912.5 1565.1,911.6 1565.5,913.3 1565.8,911.8 1566.1,912.9 1566.4,911.3 1566.7,913.8 1567.0,911.5 1567.3,913.4 1567.6,912.3 1567.9,912.3 1568.2,913.4 1568.6,911.3 1568.9,912.8 1569.2,912.7 1569.5,913.3 1569.8,912.5 1570.1,911.9 1570.4,910.9 1570.7,911.8 1571.0,910.5 1571.4,911.8 1571.7,910.5 1572.0,909.8 1572.3,908.0 1572.6,908.5 1572.9,909.3 1573.2,911.6 1573.5,911.0 1573.8,910.3 1574.1,912.0 1574.5,911.2 1574.8,911.7 1575.1,913.2 1575.4,910.3 1575.7,911.0 1576.0,912.8 1576.3,911.6 1576.6,912.6 1576.9,912.4 1577.3,911.9 1577.6,912.6 1577.9,912.5 1578.2,912.4 1578.5,911.6 1578.8,912.8 1579.1,913.0 1579.4,911.4 1579.7,912.6 1580.0,910.7 1580.4,911.9 1580.7,911.4 1581.0,912.6 1581.3,911.1 1581.6,913.3 1581.9,913.2 1582.2,913.3 1582.5,911.5 1582.8,911.4 1583.2,913.0 1583.5,912.4 1583.8,911.1 1584.1,911.8 1584.4,913.3 1584.7,912.9 1585.0,913.1 1585.3,913.2 1585.6,912.4 1585.9,913.4 1586.3,910.8 1586.6,912.3 1586.9,912.0 1587.2,911.6 1587.5,911.3 1587.8,911.1 1588.1,912.4 1588.4,912.6 1588.7,912.3 1589.1,913.5 1589.4,912.4 1589.7,911.5 1590.0,910.6 1590.3,911.2 1590.6,911.6 1590.9,911.7 1591.2,913.5 1591.5,912.5 1591.8,912.4 1592.2,911.5 1592.5,913.1 1592.8,912.2 1593.1,911.7 1593.4,910.8 1593.7,910.6 1594.0,911.1 1594.3,912.2 1594.6,910.1 1595.0,909.3 1595.3,909.9 1595.6,910.0 1595.9,908.9 1596.2,909.6 1596.5,907.9 1596.8,907.5 1597.1,909.5 1597.4,909.5 1597.7,909.6 1598.1,911.9 1598.4,910.0 1598.7,911.2 1599.0,912.7 1599.3,913.2 1599.6,912.8 1599.9,912.0 1600.2,911.7 1600.5,912.9 1600.9,911.1 1601.2,912.9 1601.5,912.6 1601.8,913.7 1602.1,911.2 1602.4,913.7 1602.7,911.4 1603.0,912.6 1603.3,912.5 1603.6,912.6 1604.0,913.5 1604.3,911.6 1604.6,911.4 1604.9,911.9 1605.2,912.6 1605.5,914.0 1605.8,911.9 1606.1,913.6 1606.4,911.8 1606.8,913.8 1607.1,912.8 1607.4,912.0 1607.7,914.0 1608.0,912.9 1608.3,914.3 1608.6,914.5 1608.9,914.1 1609.2,911.7 1609.5,911.8 1609.9,912.7 1610.2,913.7 1610.5,912.7 1610.8,912.5 1611.1,913.6 1611.4,912.9 1611.7,912.3 1612.0,914.7 1612.3,914.2 1612.7,913.4 1613.0,914.3 1613.3,913.6 1613.6,913.1 1613.9,914.3 1614.2,913.2 1614.5,914.0 1614.8,913.1 1615.1,913.8 1615.4,912.9 1615.8,914.7 1616.1,912.8 1616.4,914.4 1616.7,912.0 1617.0,913.0 1617.3,913.4 1617.6,913.6 1617.9,913.0 1618.2,912.8 1618.6,912.6 1618.9,912.6 1619.2,913.4 1619.5,911.9 1619.8,912.3 1620.1,912.3 1620.4,913.6 1620.7,913.5 1621.0,913.1 1621.3,912.1 1621.7,913.2 1622.0,913.2 1622.3,913.5 1622.6,912.1 1622.9,913.8 1623.2,914.6 1623.5,912.6 1623.8,912.0 1624.1,912.5 1624.5,912.9 1624.8,912.4 1625.1,913.7 1625.4,912.8 1625.7,914.4 1626.0,914.2 1626.3,913.2 1626.6,913.0 1626.9,913.3 1627.3,914.3 1627.6,912.4 1627.9,912.9 1628.2,913.7 1628.5,913.5 1628.8,913.2 1629.1,913.6 1629.4,914.1 1629.7,911.5 1630.0,911.3 1630.4,912.2 1630.7,911.5 1631.0,912.8 1631.3,911.6 1631.6,913.3 1631.9,911.7 1632.2,912.2 1632.5,911.1 1632.8,913.5 1633.2,911.4 1633.5,913.3 1633.8,912.0 1634.1,910.7 1634.4,913.5 1634.7,912.7 1635.0,912.5 1635.3,912.4 1635.6,913.1 1635.9,910.5 1636.3,910.7 1636.6,911.9 1636.9,911.9 1637.2,911.1 1637.5,912.7 1637.8,912.6 1638.1,909.9 1638.4,911.6 1638.7,910.9 1639.1,909.5 1639.4,909.3 1639.7,910.7 1640.0,911.4 1640.3,911.0 1640.6,909.0 1640.9,908.9 1641.2,910.9 1641.5,908.8 1641.8,910.1 1642.2,909.6 1642.5,910.4 1642.8,908.1 1643.1,907.5 1643.4,909.7 1643.7,908.2 1644.0,909.3 1644.3,907.0 1644.6,909.3 1645.0,908.9 1645.3,906.8 1645.6,907.7 1645.9,905.7 1646.2,905.4 1646.5,905.6 1646.8,906.9 1647.1,904.9 1647.4,903.7 1647.7,904.8 1648.1,905.4 1648.4,904.5 1648.7,903.7 1649.0,901.9 1649.3,902.8 1649.6,902.1 1649.9,901.2 1650.2,899.1 1650.5,897.8 1650.9,898.1 1651.2,896.2 1651.5,894.4 1651.8,894.0 1652.1,893.7 1652.4,892.0 1652.7,888.4 1653.0,887.4 1653.3,886.5 1653.6,883.2 1654.0,882.5 1654.3,877.1 1654.6,875.8 1654.9,872.4 1655.2,869.0 1655.5,866.8 1655.8,861.3 1656.1,858.3 1656.4,854.4 1656.8,848.8 1657.1,847.2 1657.4,843.2 1657.7,839.1 1658.0,838.7 1658.3,837.5 1658.6,836.6 1658.9,838.6 1659.2,838.3 1659.5,840.7 1659.9,846.8 1660.2,849.1 1660.5,852.2 1660.8,857.3 1661.1,859.6 1661.4,864.8 1661.7,869.4 1662.0,871.7 1662.3,874.6 1662.7,878.4 1663.0,880.2 1663.3,882.3 1663.6,885.3 1663.9,887.3 1664.2,888.2 1664.5,890.3 1664.8,892.3 1665.1,892.4 1665.4,896.0 1665.8,895.4 1666.1,898.3 1666.4,897.9 1666.7,899.9 1667.0,900.1 1667.3,899.8 1667.6,900.5 1667.9,901.1 1668.2,903.4 1668.6,903.1 1668.9,904.5 1669.2,903.8 1669.5,904.5 1669.8,906.3 1670.1,905.0 1670.4,905.0 1670.7,905.8 1671.0,905.2 1671.3,907.6 1671.7,907.9 1672.0,908.6 1672.3,907.4 1672.6,907.8 1672.9,908.0 1673.2,908.7 1673.5,907.3 1673.8,909.7 1674.1,907.4 1674.5,908.6 1674.8,908.8 1675.1,908.2 1675.4,910.0 1675.7,910.4 1676.0,910.1 1676.3,911.0 1676.6,910.3 1676.9,909.5 1677.2,909.9 1677.6,910.8 1677.9,909.9 1678.2,911.5 1678.5,909.4 1678.8,911.5 1679.1,911.3 1679.4,911.7 1679.7,910.2 1680.0,909.9 1680.4,910.1 1680.7,912.3 1681.0,911.4 1681.3,911.6 1681.6,912.1 1681.9,909.9 1682.2,912.8 1682.5,911.5 1682.8,910.7 1683.2,910.1 1683.5,912.7 1683.8,911.8 1684.1,911.0 1684.4,913.2 1684.7,912.7 1685.0,910.8 1685.3,913.1 1685.6,912.4 1685.9,912.7 1686.3,912.4 1686.6,913.5 1686.9,913.6 1687.2,910.8 1687.5,911.5 1687.8,911.7 1688.1,913.2 1688.4,913.2 1688.7,912.3 1689.1,913.3 1689.4,912.7 1689.7,911.3 1690.0,913.1 1690.3,913.2 1690.6,911.3 1690.9,912.4 1691.2,914.2 1691.5,913.1 1691.8,912.4 1692.2,914.2 1692.5,913.4 1692.8,912.4 1693.1,911.9 1693.4,912.7 1693.7,911.9 1694.0,913.2 1694.3,913.4 1694.6,912.1 1695.0,913.5 1695.3,912.3 1695.6,914.1 1695.9,913.7 1696.2,914.2 1696.5,913.1 1696.8,914.3 1697.1,914.2 1697.4,914.2 1697.7,913.4 1698.1,913.9 1698.4,913.5 1698.7,911.9 1699.0,912.9 1699.3,912.3 1699.6,914.3 1699.9,913.8 1700.2,914.8 1700.5,912.9 1700.9,913.9 1701.2,914.2 1701.5,915.0 1701.8,914.5 1702.1,914.2 1702.4,913.9 1702.7,912.3 1703.0,912.9 1703.3,914.3 1703.6,914.0 1704.0,914.6 1704.3,912.3 1704.6,914.0 1704.9,912.8 1705.2,912.9 1705.5,912.4 1705.8,915.0 1706.1,914.1 1706.4,913.9 1706.8,914.8 1707.1,912.4 1707.4,914.1 1707.7,912.8 1708.0,913.5 1708.3,914.9 1708.6,913.9 1708.9,914.4 1709.2,914.9 1709.5,914.6 1709.9,913.3 1710.2,914.9 1710.5,914.1 1710.8,913.8 1711.1,913.4 1711.4,914.6 1711.7,912.9 1712.0,914.2 1712.3,912.8 1712.7,913.0 1713.0,914.5 1713.3,914.3 1713.6,914.1 1713.9,912.8 1714.2,913.7 1714.5,913.7 1714.8,912.3 1715.1,914.2 1715.4,914.0 1715.8,913.8 1716.1,914.2 1716.4,914.7 1716.7,914.7 1717.0,912.9 1717.3,913.0 1717.6,912.3 1717.9,911.8 1718.2,913.8 1718.6,912.7 1718.9,911.9 1719.2,914.0 1719.5,912.5 1719.8,912.6 1720.1,911.7 1720.4,911.9 1720.7,913.8 1721.0,912.6 1721.3,914.2 1721.7,913.2 1722.0,913.3 1722.3,914.2 1722.6,913.2 1722.9,913.4 1723.2,912.9 1723.5,913.5 1723.8,913.8 1724.1,913.1 1724.5,912.8 1724.8,913.7 1725.1,912.2 1725.4,913.5 1725.7,913.9 1726.0,913.1 1726.3,912.9 1726.6,913.6 1726.9,912.3 1727.2,911.9 1727.6,912.4 1727.9,911.9 1728.2,913.9 1728.5,912.8 1728.8,912.8 1729.1,913.7 1729.4,912.7 1729.7,913.7 1730.0,912.3 1730.4,912.1 1730.7,912.4 1731.0,912.8 1731.3,913.0 1731.6,913.6 1731.9,912.7 1732.2,911.0 1732.5,912.0 1732.8,912.8 1733.1,911.6 1733.5,913.0 1733.8,912.1 1734.1,911.7 1734.4,910.6 1734.7,912.4 1735.0,911.7 1735.3,910.6 1735.6,911.1 1735.9,911.5 1736.3,911.5 1736.6,912.1 1736.9,912.1 1737.2,912.5 1737.5,910.8 1737.8,910.6 1738.1,912.1 1738.4,910.5 1738.7,913.1 1739.1,912.8 1739.4,911.6 1739.7,912.2 1740.0,912.0 1740.3,910.1 1740.6,912.6 1740.9,912.5 1741.2,912.3 1741.5,910.9 1741.8,912.3 1742.2,912.9 1742.5,911.3 1742.8,911.7 1743.1,912.1 1743.4,911.4 1743.7,910.9 1744.0,911.1 1744.3,910.9 1744.6,911.1 1745.0,910.2 1745.3,909.8 1745.6,911.7 1745.9,911.6 1746.2,909.9 1746.5,911.6 1746.8,910.4 1747.1,910.4 1747.4,910.4 1747.7,909.5 1748.1,909.9 1748.4,911.9 1748.7,910.5 1749.0,910.8 1749.3,910.6 1749.6,911.1 1749.9,911.3 1750.2,909.9 1750.5,910.5 1750.9,911.3 1751.2,911.2 1751.5,910.9 1751.8,911.3 1752.1,910.3 1752.4,911.4 1752.7,911.5 1753.0,911.4 1753.3,911.2 1753.6,909.4 1754.0,911.1 1754.3,910.0 1754.6,908.9 1754.9,909.7 1755.2,910.5 1755.5,908.3 1755.8,908.2 1756.1,910.6 1756.4,909.8 1756.8,908.9 1757.1,907.9 1757.4,909.0 1757.7,907.9 1758.0,909.1 1758.3,907.6 1758.6,908.5 1758.9,908.3 1759.2,906.8 1759.5,906.4 1759.9,906.2 1760.2,906.7 1760.5,906.9 1760.8,905.7 1761.1,905.6 1761.4,904.7 1761.7,904.4 1762.0,906.0 1762.3,904.9 1762.7,903.5 1763.0,904.4 1763.3,904.0 1763.6,903.9 1763.9,901.6 1764.2,899.8 1764.5,899.0 1764.8,900.7 1765.1,898.1 1765.4,898.0 1765.8,896.3 1766.1,895.8 1766.4,893.0 1766.7,891.4 1767.0,892.7 1767.3,889.1 1767.6,889.0 1767.9,887.2 1768.2,884.3 1768.6,880.6 1768.9,877.2 1769.2,877.0 1769.5,873.3 1769.8,871.0 1770.1,866.0 1770.4,862.6 1770.7,859.3 1771.0,855.9 1771.3,851.0 1771.7,847.8 1772.0,846.7 1772.3,844.3 1772.6,842.3 1772.9,841.3 1773.2,841.0 1773.5,843.9 1773.8,844.9 1774.1,847.9 1774.5,850.2 1774.8,855.6 1775.1,859.1 1775.4,862.9 1775.7,864.1 1776.0,869.6 1776.3,872.2 1776.6,876.5 1776.9,878.8 1777.2,882.4 1777.6,883.2 1777.9,886.8 1778.2,887.4 1778.5,890.4 1778.8,892.3 1779.1,893.1 1779.4,894.9 1779.7,896.5 1780.0,898.4 1780.4,899.4 1780.7,897.9 1781.0,900.6 1781.3,902.2 1781.6,902.6 1781.9,902.5 1782.2,901.6 1782.5,904.6 1782.8,903.2 1783.1,904.9 1783.5,905.7 1783.8,905.1 1784.1,906.8 1784.4,908.3 1784.7,907.3 1785.0,907.4 1785.3,907.9 1785.6,909.3 1785.9,907.7 1786.3,908.3 1786.6,908.2 1786.9,910.2 1787.2,909.3 1787.5,909.9 1787.8,911.9 1788.1,912.6 1788.4,912.4 1788.7,912.8 1789.0,913.2 1789.4,912.5 1789.7,911.6 1790.0,913.1 1790.3,912.7 1790.6,914.4 1790.9,914.0 1791.2,911.9 1791.5,915.0 1791.8,913.6 1792.2,912.9 1792.5,913.1 1792.8,913.5 1793.1,914.6 1793.4,913.6 1793.7,913.6 1794.0,914.0 1794.3,913.5 1794.6,916.2 1795.0,913.8 1795.3,915.6 1795.6,914.8 1795.9,916.3" fill="none" stroke="#000" stroke-width="2.2" stroke-linejoin="round"/><rect x="1308" y="537.2" width="488" height="383.0" fill="none" stroke="#000" stroke-width="3.5"/><line x1="1308.0" y1="920.2" x2="1308.0" y2="923.2" stroke="#000" stroke-width="2.5"/><line x1="1352.4" y1="920.2" x2="1352.4" y2="926.2" stroke="#000" stroke-width="2.5"/><text x="1352.4" y="951.5" font-family="'Liberation Sans', Arial, sans-serif" font-size="22" font-weight="bold" text-anchor="middle" fill="#111" >30</text><line x1="1396.7" y1="920.2" x2="1396.7" y2="923.2" stroke="#000" stroke-width="2.5"/><line x1="1441.1" y1="920.2" x2="1441.1" y2="926.2" stroke="#000" stroke-width="2.5"/><text x="1441.1" y="951.5" font-family="'Liberation Sans', Arial, sans-serif" font-size="22" font-weight="bold" text-anchor="middle" fill="#111" >40</text><line x1="1485.5" y1="920.2" x2="1485.5" y2="923.2" stroke="#000" stroke-width="2.5"/><line x1="1529.8" y1="920.2" x2="1529.8" y2="926.2" stroke="#000" stroke-width="2.5"/><text x="1529.8" y="951.5" font-family="'Liberation Sans', Arial, sans-serif" font-size="22" font-weight="bold" text-anchor="middle" fill="#111" >50</text><line x1="1574.2" y1="920.2" x2="1574.2" y2="923.2" stroke="#000" stroke-width="2.5"/><line x1="1618.6" y1="920.2" x2="1618.6" y2="926.2" stroke="#000" stroke-width="2.5"/><text x="1618.6" y="951.5" font-family="'Liberation Sans', Arial, sans-serif" font-size="22" font-weight="bold" text-anchor="middle" fill="#111" >60</text><line x1="1662.9" y1="920.2" x2="1662.9" y2="923.2" stroke="#000" stroke-width="2.5"/><line x1="1707.3" y1="920.2" x2="1707.3" y2="926.2" stroke="#000" stroke-width="2.5"/><text x="1707.3" y="951.5" font-family="'Liberation Sans', Arial, sans-serif" font-size="22" font-weight="bold" text-anchor="middle" fill="#111" >70</text><line x1="1751.7" y1="920.2" x2="1751.7" y2="923.2" stroke="#000" stroke-width="2.5"/><line x1="1796.0" y1="920.2" x2="1796.0" y2="926.2" stroke="#000" stroke-width="2.5"/><text x="1796.0" y="951.5" font-family="'Liberation Sans', Arial, sans-serif" font-size="22" font-weight="bold" text-anchor="middle" fill="#111" >80</text><text transform="translate(1339.2,866.5) rotate(-90)" font-family="'Liberation Sans', Arial, sans-serif" font-size="19.7" fill="#111" stroke="#111" stroke-width="0.75" textLength="49.2" lengthAdjust="spacingAndGlyphs">(210)</text><text transform="translate(1379.3,837) rotate(-90)" font-family="'Liberation Sans', Arial, sans-serif" font-size="19.7" fill="#111" stroke="#111" stroke-width="0.75" textLength="48.4" lengthAdjust="spacingAndGlyphs">(122)</text><text transform="translate(1447.4,595.1) rotate(-90)" font-family="'Liberation Sans', Arial, sans-serif" font-size="19.7" fill="#111" stroke="#111" stroke-width="0.75" textLength="49.2" lengthAdjust="spacingAndGlyphs">(111)</text><text transform="translate(1483.9,831.1) rotate(-90)" font-family="'Liberation Sans', Arial, sans-serif" font-size="19.7" fill="#111" stroke="#111" stroke-width="0.75" textLength="48.4" lengthAdjust="spacingAndGlyphs">(200)</text><text transform="translate(1513.1,890.1) rotate(-90)" font-family="'Liberation Sans', Arial, sans-serif" font-size="19.7" fill="#111" stroke="#111" stroke-width="0.75" textLength="49.1" lengthAdjust="spacingAndGlyphs">(231)</text><text transform="translate(1662.2,810) rotate(-90)" font-family="'Liberation Sans', Arial, sans-serif" font-size="19.7" fill="#111" stroke="#111" stroke-width="0.75" textLength="49.6" lengthAdjust="spacingAndGlyphs">(220)</text><text transform="translate(1775.3,813.5) rotate(-90)" font-family="'Liberation Sans', Arial, sans-serif" font-size="19.7" fill="#111" stroke="#111" stroke-width="0.75" textLength="48.1" lengthAdjust="spacingAndGlyphs">(311)</text><text transform="translate(1290.7,809.2) rotate(-90)" font-family="'Liberation Sans', Arial, sans-serif" font-size="26" font-weight="bold" fill="#111" textLength="162" lengthAdjust="spacingAndGlyphs">Intensity (a.u)</text><text x="1484.6" y="979.5" font-family="'Liberation Sans', Arial, sans-serif" font-size="24" font-weight="bold" text-anchor="start" fill="#111" textLength="123.2" lengthAdjust="spacingAndGlyphs" >Angle (2<tspan font-family="'Liberation Serif', 'Times New Roman', serif" font-weight="normal">θ</tspan>)</text><text x="1213.8" y="545.3" font-family="'Liberation Sans', Arial, sans-serif" font-size="46.5" font-weight="bold" text-anchor="start" fill="#000" textLength="51" lengthAdjust="spacingAndGlyphs" stroke="#000" stroke-width="1">(f)</text></g><g id="panelA"><g clip-path="url(#clipA)"><rect x="11" y="3" width="516" height="486" fill="#989898"/><ellipse cx="381" cy="164" rx="16" ry="18" fill="#aeaeae" filter="url(#blur4)"/><g fill="#a9a9a9" opacity="0.7" filter="url(#blur2)"><ellipse cx="141" cy="58" rx="32.5" ry="30.5" transform="rotate(0 141 58)"/><ellipse cx="191" cy="70" rx="25.0" ry="24.0" transform="rotate(0 191 70)"/><ellipse cx="241" cy="195" rx="36.5" ry="30.5" transform="rotate(35 241 195)"/><ellipse cx="275" cy="5" rx="23.5" ry="23.5" transform="rotate(0 275 5)"/><ellipse cx="338" cy="37" rx="35.5" ry="31.0" transform="rotate(0 338 37)"/><ellipse cx="317" cy="140" rx="29.5" ry="30.0" transform="rotate(0 317 140)"/><ellipse cx="40" cy="281" rx="34.5" ry="36.5" transform="rotate(0 40 281)"/><ellipse cx="112" cy="281" rx="38.5" ry="39.0" transform="rotate(0 112 281)"/><ellipse cx="176" cy="306" rx="31.2" ry="31.2" transform="rotate(0 176 306)"/><ellipse cx="263" cy="313" rx="28.8" ry="29.2" transform="rotate(0 263 313)"/><ellipse cx="40" cy="349" rx="32.5" ry="29.9" transform="rotate(0 40 349)"/><ellipse cx="190" cy="372" rx="37.2" ry="33.2" transform="rotate(0 190 372)"/><ellipse cx="252.5" cy="398" rx="34.2" ry="30.5" transform="rotate(0 252.5 398)"/><ellipse cx="44" cy="408" rx="35.5" ry="36.5" transform="rotate(0 44 408)"/><ellipse cx="504" cy="249" rx="23.9" ry="22.5" transform="rotate(0 504 249)"/><ellipse cx="536" cy="293" rx="30.5" ry="30.5" transform="rotate(0 536 293)"/><ellipse cx="475" cy="310" rx="31.9" ry="26.5" transform="rotate(0 475 310)"/><ellipse cx="540" cy="380" rx="34.5" ry="35.5" transform="rotate(0 540 380)"/><ellipse cx="379" cy="472" rx="27.9" ry="27.5" transform="rotate(0 379 472)"/><ellipse cx="313" cy="490" rx="35.5" ry="32.5" transform="rotate(0 313 490)"/></g><g filter="url(#blur1)"><ellipse cx="141" cy="58" rx="30" ry="28" fill="url(#pgd)" transform="rotate(0 141 58)"/><ellipse cx="191" cy="70" rx="22.5" ry="21.5" fill="url(#pgm)" transform="rotate(0 191 70)"/><ellipse cx="241" cy="195" rx="34" ry="28" fill="url(#pgd)" transform="rotate(35 241 195)"/><ellipse cx="275" cy="5" rx="21" ry="21" fill="url(#pgm)" transform="rotate(0 275 5)"/><ellipse cx="338" cy="37" rx="33" ry="28.5" fill="url(#pgm)" transform="rotate(0 338 37)"/><ellipse cx="317" cy="140" rx="27" ry="27.5" fill="url(#pgd)" transform="rotate(0 317 140)"/><ellipse cx="40" cy="281" rx="32" ry="34" fill="url(#pgd)" transform="rotate(0 40 281)"/><ellipse cx="112" cy="281" rx="36" ry="36.5" fill="url(#pgd)" transform="rotate(0 112 281)"/><ellipse cx="176" cy="306" rx="28.7" ry="28.7" fill="url(#pgm)" transform="rotate(0 176 306)"/><ellipse cx="263" cy="313" rx="26.3" ry="26.7" fill="url(#pgd)" transform="rotate(0 263 313)"/><ellipse cx="40" cy="349" rx="30" ry="27.4" fill="url(#pgm)" transform="rotate(0 40 349)"/><ellipse cx="190" cy="372" rx="34.7" ry="30.7" fill="url(#pgd)" transform="rotate(0 190 372)"/><ellipse cx="252.5" cy="398" rx="31.7" ry="28" fill="url(#pgd)" transform="rotate(0 252.5 398)"/><ellipse cx="44" cy="408" rx="33" ry="34" fill="url(#pgd)" transform="rotate(0 44 408)"/><ellipse cx="504" cy="249" rx="21.4" ry="20" fill="url(#pgm)" transform="rotate(0 504 249)"/><ellipse cx="536" cy="293" rx="28" ry="28" fill="url(#pgd)" transform="rotate(0 536 293)"/><ellipse cx="475" cy="310" rx="29.4" ry="24" fill="url(#pgd)" transform="rotate(0 475 310)"/><ellipse cx="540" cy="380" rx="32" ry="33" fill="url(#pgd)" transform="rotate(0 540 380)"/><ellipse cx="379" cy="472" rx="25.4" ry="25" fill="url(#pgd)" transform="rotate(0 379 472)"/><ellipse cx="313" cy="490" rx="33" ry="30" fill="url(#pgd)" transform="rotate(0 313 490)"/></g><g filter="url(#blurS)"><ellipse cx="138" cy="44" rx="13" ry="9" fill="#1e1e1e"/><ellipse cx="228" cy="186" rx="12" ry="9" fill="#303030"/><ellipse cx="264" cy="312" rx="8" ry="7" fill="#2a2a2a"/><ellipse cx="476" cy="302" rx="20" ry="6" fill="#3a3a3a" transform="rotate(10 476 302)"/><ellipse cx="120" cy="285" rx="22" ry="14" fill="#404040"/><ellipse cx="190" cy="375" rx="22" ry="14" fill="#424242"/><ellipse cx="322" cy="135" rx="14" ry="12" fill="#3a3a3a"/><circle cx="478" cy="190" r="4.5" fill="#777"/><circle cx="316" cy="237" r="3.5" fill="#848484"/></g><g filter="url(#blur1)" fill="none" stroke-linecap="round"><path d="M57,258 L47,311" stroke="#7a7a7a" stroke-width="2.2" opacity="0.7"/><path d="M33,380 Q30,408 31,436" stroke="#707070" stroke-width="2" opacity="0.7"/><path d="M372,452 L370,489 M385,450 L383,489" stroke="#303030" stroke-width="4" opacity="0.7"/><path d="M456,300 Q478,296 500,303 M452,307 Q478,303 503,311 M455,315 Q478,312 500,318" stroke="#363636" stroke-width="1.8" opacity="0.8"/><path d="M92,290 Q104,298 116,304" stroke="#3a3a3a" stroke-width="6" opacity="0.55"/><path d="M320,30 L350,45 M335,20 L340,55 M322,48 L352,28" stroke="#474747" stroke-width="2" opacity="0.6"/><path d="M180,360 Q195,380 205,395" stroke="#3c3c3c" stroke-width="5" opacity="0.5"/></g><g fill="#b4b4b4" opacity="0.35" filter="url(#blurS)"><ellipse cx="150" cy="235" rx="40" ry="12"/><ellipse cx="80" cy="450" rx="25" ry="8"/><ellipse cx="230" cy="165" rx="30" ry="8"/></g><rect x="11" y="3" width="516" height="486" filter="url(#noiseA)" style="mix-blend-mode:overlay" opacity="0.9"/></g><rect x="14.7" y="451.7" width="155" height="32.3" fill="#fff"/><line x1="18" y1="473.7" x2="73" y2="473.7" stroke="#e8232b" stroke-width="6.5" stroke-linecap="round"/><text x="74.5" y="474.5" font-family="'Liberation Sans', Arial, sans-serif" font-size="31.5" font-weight="bold" text-anchor="start" fill="#000" textLength="91.2" lengthAdjust="spacingAndGlyphs" stroke="#000" stroke-width="0.6">10 nm</text><text x="18.6" y="43.5" font-family="'Liberation Sans', Arial, sans-serif" font-size="45" font-weight="bold" text-anchor="start" fill="#000" textLength="54.4" lengthAdjust="spacingAndGlyphs" stroke="#000" stroke-width="1">(a)</text></g><g id="panelB"><g clip-path="url(#clipB)"><rect x="543" y="3" width="557" height="487" fill="#aaaaaa"/><mask id="mCap" maskUnits="userSpaceOnUse" x="543" y="3" width="557" height="487"><path d="M700,74 C735,60 800,56 850,72 C880,85 900,112 908,150 C880,128 820,110 760,112 C730,114 712,118 705,124 C695,105 694,86 700,74 Z" fill="#fff" filter="url(#blur4)"/></mask><g mask="url(#mCap)"><rect x="680" y="40" width="240" height="130" fill="url(#fringe)" opacity="0.45" filter="url(#blurL)"/></g><path d="M647.3,234.6 C649.4,227.1 653.6,203.8 659.8,189.7 C666.0,175.5 673.9,161.3 684.7,149.7 C695.5,138.0 713.1,126.9 724.7,119.8 C736.4,112.7 741.3,110.2 754.6,107.3 C767.9,104.4 787.0,101.5 804.5,102.3 C822.0,103.1 843.6,107.7 859.4,112.3 C875.2,116.9 889.4,121.9 899.4,129.8 C909.4,137.7 912.6,148.0 919.3,159.7 C925.9,171.3 934.3,187.2 939.3,199.7 C944.3,212.2 948.5,221.3 949.3,234.6 C950.1,247.9 947.6,267.0 944.3,279.5 C941.0,292.0 935.1,301.2 929.3,309.5 C923.5,317.8 919.4,321.9 909.4,329.4 C899.4,336.9 884.4,347.3 869.4,354.4 C854.4,361.5 834.5,368.5 819.5,371.8 C804.5,375.1 792.9,376.4 779.6,374.3 C766.3,372.2 752.9,366.9 739.6,359.4 C726.3,351.9 711.3,340.2 699.7,329.4 C688.1,318.6 677.7,305.3 669.8,294.5 C661.9,283.7 656.0,274.5 652.3,264.5 C648.5,254.5 648.1,239.6 647.3,234.6 Z" fill="#686868" filter="url(#blur4)"/><path d="M647.3,234.6 C649.4,227.1 653.6,203.8 659.8,189.7 C666.0,175.5 673.9,161.3 684.7,149.7 C695.5,138.0 713.1,126.9 724.7,119.8 C736.4,112.7 741.3,110.2 754.6,107.3 C767.9,104.4 787.0,101.5 804.5,102.3 C822.0,103.1 843.6,107.7 859.4,112.3 C875.2,116.9 889.4,121.9 899.4,129.8 C909.4,137.7 912.6,148.0 919.3,159.7 C925.9,171.3 934.3,187.2 939.3,199.7 C944.3,212.2 948.5,221.3 949.3,234.6 C950.1,247.9 947.6,267.0 944.3,279.5 C941.0,292.0 935.1,301.2 929.3,309.5 C923.5,317.8 919.4,321.9 909.4,329.4 C899.4,336.9 884.4,347.3 869.4,354.4 C854.4,361.5 834.5,368.5 819.5,371.8 C804.5,375.1 792.9,376.4 779.6,374.3 C766.3,372.2 752.9,366.9 739.6,359.4 C726.3,351.9 711.3,340.2 699.7,329.4 C688.1,318.6 677.7,305.3 669.8,294.5 C661.9,283.7 656.0,274.5 652.3,264.5 C648.5,254.5 648.1,239.6 647.3,234.6 Z" fill="url(#pgb)" filter="url(#blur2)"/><mask id="mBody" maskUnits="userSpaceOnUse" x="543" y="3" width="557" height="487"><path d="M647.3,234.6 C649.4,227.1 653.6,203.8 659.8,189.7 C666.0,175.5 673.9,161.3 684.7,149.7 C695.5,138.0 713.1,126.9 724.7,119.8 C736.4,112.7 741.3,110.2 754.6,107.3 C767.9,104.4 787.0,101.5 804.5,102.3 C822.0,103.1 843.6,107.7 859.4,112.3 C875.2,116.9 889.4,121.9 899.4,129.8 C909.4,137.7 912.6,148.0 919.3,159.7 C925.9,171.3 934.3,187.2 939.3,199.7 C944.3,212.2 948.5,221.3 949.3,234.6 C950.1,247.9 947.6,267.0 944.3,279.5 C941.0,292.0 935.1,301.2 929.3,309.5 C923.5,317.8 919.4,321.9 909.4,329.4 C899.4,336.9 884.4,347.3 869.4,354.4 C854.4,361.5 834.5,368.5 819.5,371.8 C804.5,375.1 792.9,376.4 779.6,374.3 C766.3,372.2 752.9,366.9 739.6,359.4 C726.3,351.9 711.3,340.2 699.7,329.4 C688.1,318.6 677.7,305.3 669.8,294.5 C661.9,283.7 656.0,274.5 652.3,264.5 C648.5,254.5 648.1,239.6 647.3,234.6 Z" fill="#fff" filter="url(#blur4)"/></mask><g mask="url(#mBody)" filter="url(#blurL)"><rect x="640" y="90" width="320" height="300" fill="url(#lattice)" opacity="0.5"/><rect x="640" y="90" width="320" height="300" fill="url(#lattice2)" opacity="0.22"/></g><path d="M745,118 C790,104 860,114 898,138 C910,152 912,165 905,170 C870,152 810,138 760,134 C745,132 740,124 745,118 Z" fill="#333" filter="url(#blur4)"/><mask id="mB" maskUnits="userSpaceOnUse" x="543" y="3" width="557" height="487"><rect x="543" y="3" width="557" height="487" fill="#fff"/><path d="M647.3,234.6 C649.4,227.1 653.6,203.8 659.8,189.7 C666.0,175.5 673.9,161.3 684.7,149.7 C695.5,138.0 713.1,126.9 724.7,119.8 C736.4,112.7 741.3,110.2 754.6,107.3 C767.9,104.4 787.0,101.5 804.5,102.3 C822.0,103.1 843.6,107.7 859.4,112.3 C875.2,116.9 889.4,121.9 899.4,129.8 C909.4,137.7 912.6,148.0 919.3,159.7 C925.9,171.3 934.3,187.2 939.3,199.7 C944.3,212.2 948.5,221.3 949.3,234.6 C950.1,247.9 947.6,267.0 944.3,279.5 C941.0,292.0 935.1,301.2 929.3,309.5 C923.5,317.8 919.4,321.9 909.4,329.4 C899.4,336.9 884.4,347.3 869.4,354.4 C854.4,361.5 834.5,368.5 819.5,371.8 C804.5,375.1 792.9,376.4 779.6,374.3 C766.3,372.2 752.9,366.9 739.6,359.4 C726.3,351.9 711.3,340.2 699.7,329.4 C688.1,318.6 677.7,305.3 669.8,294.5 C661.9,283.7 656.0,274.5 652.3,264.5 C648.5,254.5 648.1,239.6 647.3,234.6 Z" fill="#777" filter="url(#blur4)"/></mask><rect x="543" y="3" width="557" height="487" filter="url(#noiseB)" style="mix-blend-mode:overlay" mask="url(#mB)"/></g><rect x="930.6" y="340.3" width="169" height="126.1" fill="#000"/><rect x="930.6" y="338.8" width="169" height="7" fill="#e6e6e6" filter="url(#blur1)"/><rect x="930.6" y="358.8" width="169" height="7" fill="#e6e6e6" filter="url(#blur1)"/><rect x="930.6" y="380.4" width="169" height="7" fill="#e6e6e6" filter="url(#blur1)"/><rect x="930.6" y="402.1" width="169" height="7" fill="#e6e6e6" filter="url(#blur1)"/><rect x="930.6" y="423.2" width="169" height="7" fill="#e6e6e6" filter="url(#blur1)"/><rect x="930.6" y="443.9" width="169" height="7" fill="#e6e6e6" filter="url(#blur1)"/><line x1="904" y1="127.5" x2="1099" y2="340.5" stroke="#e23a3a" stroke-width="1.4"/><line x1="750" y1="370" x2="930.6" y2="466.4" stroke="#e23a3a" stroke-width="1.4"/><line x1="542.6" y1="3" x2="542.6" y2="490" stroke="#e84a50" stroke-width="2.6"/><line x1="1099.6" y1="3" x2="1099.6" y2="490" stroke="#e84a50" stroke-width="2"/><line x1="541.5" y1="489.5" x2="1100.6" y2="489.5" stroke="#e84a50" stroke-width="2"/><text x="676.6" y="368.6" font-family="'Liberation Sans', Arial, sans-serif" font-size="37" font-weight="bold" text-anchor="start" fill="#0a0a0a" textLength="180.4" lengthAdjust="spacingAndGlyphs" stroke="#0a0a0a" stroke-width="0.8">0.242 nm</text><rect x="874" y="350.8" width="42" height="8.5" fill="#111"/><path d="M914,342 L920,341 Q922,355 920,369 L914,368 Z" fill="#111"/><rect x="543.5" y="448.5" width="187" height="34.5" fill="#fff"/><line x1="545" y1="468.8" x2="650" y2="468.8" stroke="#e8232b" stroke-width="7.5" stroke-linecap="round"/><text x="650.5" y="473.3" font-family="'Liberation Sans', Arial, sans-serif" font-size="32" font-weight="bold" text-anchor="start" fill="#000" textLength="73.5" lengthAdjust="spacingAndGlyphs" stroke="#000" stroke-width="0.6">5 nm</text><text x="544" y="44.5" font-family="'Liberation Sans', Arial, sans-serif" font-size="45" font-weight="bold" text-anchor="start" fill="#000" textLength="57.6" lengthAdjust="spacingAndGlyphs" stroke="#000" stroke-width="1">(b)</text></g><path d="M1100.8,136.5 C1097.2,148 1097.2,159 1100.8,170.5 L1104.2,170.5 C1102,159 1102,148 1104.2,136.5 Z" fill="#000"/><g stroke="#f5b21f" stroke-width="3.3" stroke-linecap="round" stroke-dasharray="0 6.6" fill="none"><line x1="323" y1="113.4" x2="725" y2="123.5"/><line x1="313" y1="167.6" x2="750" y2="370"/></g><defs>
<radialGradient id="pgd" cx="0.45" cy="0.45" r="0.6"><stop offset="0" stop-color="#3e3e3e"/><stop offset="0.75" stop-color="#484848"/><stop offset="1" stop-color="#585858"/></radialGradient>
<radialGradient id="pgm" cx="0.45" cy="0.45" r="0.6"><stop offset="0" stop-color="#525252"/><stop offset="0.75" stop-color="#5b5b5b"/><stop offset="1" stop-color="#676767"/></radialGradient>
<radialGradient id="pgl" cx="0.45" cy="0.45" r="0.6"><stop offset="0" stop-color="#646464"/><stop offset="0.75" stop-color="#6b6b6b"/><stop offset="1" stop-color="#767676"/></radialGradient>
<linearGradient id="pgb" x1="0" y1="0.7" x2="1" y2="0.3"><stop offset="0" stop-color="#747474"/><stop offset="0.45" stop-color="#666"/><stop offset="0.8" stop-color="#5e5e5e"/><stop offset="1" stop-color="#6a6a6a"/></linearGradient>
<pattern id="lattice" patternUnits="userSpaceOnUse" width="4.4" height="4.4" patternTransform="rotate(42)">
  <rect width="4.4" height="4.4" fill="#888"/><rect width="2" height="4.4" fill="#2a2a2a"/></pattern>
<pattern id="lattice2" patternUnits="userSpaceOnUse" width="4.0" height="4.0" patternTransform="rotate(-30)">
  <rect width="4.4" height="4.4" fill="#888"/><rect width="2" height="4.4" fill="#2a2a2a"/></pattern>
<pattern id="fringe" patternUnits="userSpaceOnUse" width="5.6" height="5.6" patternTransform="rotate(35)">
  <rect width="5.6" height="5.6" fill="#d0d0d0"/><rect width="2.6" height="5.6" fill="#6a6a6a"/></pattern>
<filter id="noiseA" x="0" y="0" width="100%" height="100%" color-interpolation-filters="sRGB">
  <feTurbulence type="fractalNoise" baseFrequency="0.45" numOctaves="2" seed="3"/>
  <feColorMatrix type="matrix" values="0.4 0 0 0 0.3  0.4 0 0 0 0.3  0.4 0 0 0 0.3  0 0 0 0 1" />
</filter>
<filter id="noiseB" x="0" y="0" width="100%" height="100%" color-interpolation-filters="sRGB">
  <feTurbulence type="fractalNoise" baseFrequency="0.22" numOctaves="2" seed="9"/>
  <feColorMatrix type="matrix" values="0.75 0 0 0 0.125  0.75 0 0 0 0.125  0.75 0 0 0 0.125  0 0 0 0 1" />
</filter>
<filter id="blur1" x="-20%" y="-20%" width="140%" height="140%"><feGaussianBlur stdDeviation="1"/></filter>
<filter id="blurL" x="-5%" y="-5%" width="110%" height="110%"><feGaussianBlur stdDeviation="0.6"/></filter>
<filter id="blurS" x="-50%" y="-50%" width="200%" height="200%"><feGaussianBlur stdDeviation="3"/></filter>
</defs></svg></body></html>
